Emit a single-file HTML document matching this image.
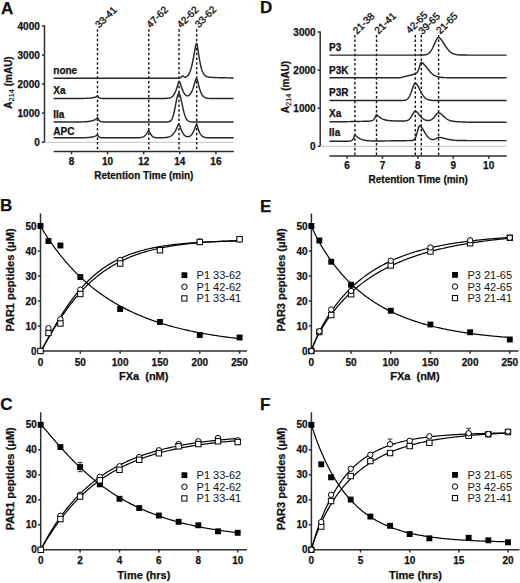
<!DOCTYPE html>
<html><head><meta charset="utf-8"><style>
html,body{margin:0;padding:0;background:#fff;}
svg{display:block;}
text{font-family:"Liberation Sans", sans-serif;fill:#111;}
text[font-weight="bold"]{stroke:#111;stroke-width:0.25px;}
</style></head><body>
<svg width="520" height="583" viewBox="0 0 520 583">
<rect width="520" height="583" fill="#fff"/>
<text x="0.90" y="13.50" font-size="17" font-weight="bold" text-anchor="start" >A</text>
<text x="259.90" y="13.30" font-size="17" font-weight="bold" text-anchor="start" >D</text>
<text x="0.00" y="211.40" font-size="17" font-weight="bold" text-anchor="start" >B</text>
<text x="260.00" y="211.60" font-size="17" font-weight="bold" text-anchor="start" >E</text>
<text x="0.30" y="410.20" font-size="17" font-weight="bold" text-anchor="start" >C</text>
<text x="260.10" y="409.60" font-size="17" font-weight="bold" text-anchor="start" >F</text>
<line x1="44.50" y1="25.50" x2="44.50" y2="142.60" stroke="#2e2e2e" stroke-width="1.5" />
<line x1="41.90" y1="142.20" x2="44.50" y2="142.20" stroke="#2e2e2e" stroke-width="1.5" />
<text x="39.80" y="145.80" font-size="10" font-weight="bold" text-anchor="end" >0</text>
<line x1="41.90" y1="113.15" x2="44.50" y2="113.15" stroke="#2e2e2e" stroke-width="1.5" />
<text x="39.80" y="116.75" font-size="10" font-weight="bold" text-anchor="end" >1000</text>
<line x1="41.90" y1="84.10" x2="44.50" y2="84.10" stroke="#2e2e2e" stroke-width="1.5" />
<text x="39.80" y="87.70" font-size="10" font-weight="bold" text-anchor="end" >2000</text>
<line x1="41.90" y1="55.05" x2="44.50" y2="55.05" stroke="#2e2e2e" stroke-width="1.5" />
<text x="39.80" y="58.65" font-size="10" font-weight="bold" text-anchor="end" >3000</text>
<line x1="41.90" y1="26.00" x2="44.50" y2="26.00" stroke="#2e2e2e" stroke-width="1.5" />
<text x="39.80" y="29.60" font-size="10" font-weight="bold" text-anchor="end" >4000</text>
<line x1="44.50" y1="142.30" x2="233.80" y2="142.30" stroke="#c4c4c4" stroke-width="1" />
<line x1="53.60" y1="151.60" x2="233.80" y2="151.60" stroke="#2e2e2e" stroke-width="1.5" />
<line x1="71.50" y1="151.60" x2="71.50" y2="154.30" stroke="#2e2e2e" stroke-width="1.5" />
<text x="71.50" y="165.30" font-size="10" font-weight="bold" text-anchor="middle" >8</text>
<line x1="107.60" y1="151.60" x2="107.60" y2="154.30" stroke="#2e2e2e" stroke-width="1.5" />
<text x="107.60" y="165.30" font-size="10" font-weight="bold" text-anchor="middle" >10</text>
<line x1="143.70" y1="151.60" x2="143.70" y2="154.30" stroke="#2e2e2e" stroke-width="1.5" />
<text x="143.70" y="165.30" font-size="10" font-weight="bold" text-anchor="middle" >12</text>
<line x1="179.80" y1="151.60" x2="179.80" y2="154.30" stroke="#2e2e2e" stroke-width="1.5" />
<text x="179.80" y="165.30" font-size="10" font-weight="bold" text-anchor="middle" >14</text>
<line x1="215.90" y1="151.60" x2="215.90" y2="154.30" stroke="#2e2e2e" stroke-width="1.5" />
<text x="215.90" y="165.30" font-size="10" font-weight="bold" text-anchor="middle" >16</text>
<text x="143.80" y="178.60" font-size="10" font-weight="bold" text-anchor="middle" >Retention Time (min)</text>
<text transform="translate(12.2,82.5) rotate(-90)" font-size="10" font-weight="bold" text-anchor="middle">A<tspan font-size="7.4" font-weight="normal" dy="2" style="stroke-width:0.15px">214</tspan><tspan dy="-2"> (mAU)</tspan></text>
<line x1="97.50" y1="29.30" x2="97.50" y2="151.60" stroke="#111" stroke-width="1.4" stroke-dasharray="2.5 2.2"/>
<line x1="148.80" y1="29.30" x2="148.80" y2="151.60" stroke="#111" stroke-width="1.4" stroke-dasharray="2.5 2.2"/>
<line x1="179.00" y1="29.30" x2="179.00" y2="151.60" stroke="#111" stroke-width="1.4" stroke-dasharray="2.5 2.2"/>
<line x1="196.70" y1="29.30" x2="196.70" y2="151.60" stroke="#111" stroke-width="1.4" stroke-dasharray="2.5 2.2"/>
<polyline points="53.6,78.20 54.1,78.20 54.6,78.20 55.1,78.20 55.6,78.20 56.1,78.20 56.6,78.20 57.1,78.20 57.6,78.20 58.1,78.20 58.6,78.20 59.1,78.20 59.6,78.20 60.1,78.20 60.6,78.20 61.1,78.20 61.6,78.20 62.1,78.20 62.6,78.20 63.1,78.20 63.6,78.20 64.1,78.20 64.6,78.20 65.1,78.20 65.6,78.20 66.1,78.20 66.6,78.20 67.1,78.20 67.6,78.20 68.1,78.20 68.6,78.20 69.1,78.20 69.6,78.20 70.1,78.20 70.6,78.20 71.1,78.20 71.6,78.20 72.1,78.20 72.6,78.20 73.1,78.20 73.6,78.20 74.1,78.20 74.6,78.20 75.1,78.20 75.6,78.20 76.1,78.20 76.6,78.20 77.1,78.20 77.6,78.20 78.1,78.20 78.6,78.20 79.1,78.20 79.6,78.20 80.1,78.20 80.6,78.20 81.1,78.20 81.6,78.20 82.1,78.20 82.6,78.20 83.1,78.20 83.6,78.20 84.1,78.20 84.6,78.20 85.1,78.20 85.6,78.20 86.1,78.20 86.6,78.20 87.1,78.20 87.6,78.20 88.1,78.20 88.6,78.20 89.1,78.20 89.6,78.20 90.1,78.20 90.6,78.20 91.1,78.20 91.6,78.20 92.1,78.20 92.6,78.20 93.1,78.20 93.6,78.20 94.1,78.20 94.6,78.20 95.1,78.20 95.6,78.20 96.1,78.20 96.6,78.20 97.1,78.20 97.6,78.20 98.1,78.20 98.6,78.20 99.1,78.20 99.6,78.20 100.1,78.20 100.6,78.20 101.1,78.20 101.6,78.20 102.1,78.20 102.6,78.20 103.1,78.20 103.6,78.20 104.1,78.20 104.6,78.20 105.1,78.20 105.6,78.20 106.1,78.20 106.6,78.20 107.1,78.20 107.6,78.20 108.1,78.20 108.6,78.20 109.1,78.20 109.6,78.20 110.1,78.20 110.6,78.20 111.1,78.20 111.6,78.20 112.1,78.20 112.6,78.20 113.1,78.20 113.6,78.20 114.1,78.20 114.6,78.20 115.1,78.20 115.6,78.20 116.1,78.20 116.6,78.20 117.1,78.20 117.6,78.20 118.1,78.20 118.6,78.20 119.1,78.20 119.6,78.20 120.1,78.20 120.6,78.20 121.1,78.20 121.6,78.20 122.1,78.20 122.6,78.20 123.1,78.20 123.6,78.20 124.1,78.20 124.6,78.20 125.1,78.20 125.6,78.20 126.1,78.20 126.6,78.20 127.1,78.20 127.6,78.20 128.1,78.20 128.6,78.20 129.1,78.20 129.6,78.20 130.1,78.20 130.6,78.20 131.1,78.20 131.6,78.20 132.1,78.20 132.6,78.20 133.1,78.20 133.6,78.20 134.1,78.20 134.6,78.20 135.1,78.20 135.6,78.20 136.1,78.20 136.6,78.20 137.1,78.20 137.6,78.20 138.1,78.20 138.6,78.20 139.1,78.20 139.6,78.20 140.1,78.20 140.6,78.20 141.1,78.20 141.6,78.20 142.1,78.20 142.6,78.20 143.1,78.20 143.6,78.20 144.1,78.20 144.6,78.20 145.1,78.20 145.6,78.20 146.1,78.20 146.6,78.20 147.1,78.20 147.6,78.20 148.1,78.20 148.6,78.20 149.1,78.20 149.6,78.20 150.1,78.20 150.6,78.20 151.1,78.20 151.6,78.20 152.1,78.20 152.6,78.20 153.1,78.20 153.6,78.20 154.1,78.20 154.6,78.20 155.1,78.20 155.6,78.20 156.1,78.20 156.6,78.20 157.1,78.20 157.6,78.20 158.1,78.20 158.6,78.20 159.1,78.20 159.6,78.20 160.1,78.20 160.6,78.20 161.1,78.20 161.6,78.20 162.1,78.20 162.6,78.20 163.1,78.20 163.6,78.20 164.1,78.20 164.6,78.20 165.1,78.20 165.6,78.20 166.1,78.20 166.6,78.20 167.1,78.20 167.6,78.20 168.1,78.20 168.6,78.20 169.1,78.20 169.6,78.20 170.1,78.20 170.6,78.20 171.1,78.20 171.6,78.20 172.1,78.20 172.6,78.20 173.1,78.20 173.6,78.20 174.1,78.20 174.6,78.20 175.1,78.20 175.6,78.20 176.1,78.20 176.6,78.20 177.1,78.19 177.6,78.19 178.1,78.19 178.6,78.17 179.1,78.15 179.6,78.08 180.1,77.95 180.6,77.69 181.1,77.30 181.6,76.81 182.1,76.34 182.6,76.04 183.1,76.03 183.6,76.32 184.1,76.75 184.6,77.09 185.1,77.24 185.6,77.20 186.1,77.00 186.6,76.71 187.1,76.32 187.6,75.83 188.1,75.24 188.6,74.52 189.1,73.66 189.6,72.64 190.1,71.44 190.6,70.04 191.1,68.42 191.6,66.58 192.1,64.51 192.6,62.22 193.1,59.72 193.6,57.05 194.1,54.26 194.6,51.43 195.1,48.69 195.6,46.17 196.1,44.15 196.6,43.38 197.1,45.18 197.6,47.86 198.1,50.92 198.6,54.11 199.1,57.24 199.6,60.19 200.1,62.89 200.6,65.29 201.1,67.37 201.6,69.14 202.1,70.60 202.6,71.77 203.1,72.73 203.6,73.67 204.1,74.44 204.6,75.06 205.1,75.56 205.6,75.95 206.1,76.26 206.6,76.51 207.1,76.70 207.6,76.85 208.1,76.97 208.6,77.07 209.1,77.14 209.6,77.21 210.1,77.26 210.6,77.30 211.1,77.34 211.6,77.37 212.1,77.40 212.6,77.43 213.1,77.45 213.6,77.47 214.1,77.49 214.6,77.52 215.1,77.53 215.6,77.55 216.1,77.57 216.6,77.59 217.1,77.61 217.6,77.62 218.1,77.64 218.6,77.65 219.1,77.67 219.6,77.68 220.1,77.70 220.6,77.71 221.1,77.72 221.6,77.74 222.1,77.75 222.6,77.76 223.1,77.77 223.6,77.79 224.1,77.80 224.6,77.81 225.1,77.82 225.6,77.83 226.1,77.84 226.6,77.85 227.1,77.86 227.6,77.87 228.1,77.88 228.6,77.89 229.1,77.90 229.6,77.90 230.1,77.91 230.6,77.92 231.1,77.93 231.6,77.93 232.1,77.94 232.6,77.95 233.1,77.96 233.6,77.96" fill="none" stroke="#262626" stroke-width="1.45" stroke-linejoin="round"/>
<polyline points="53.6,98.50 54.1,98.50 54.6,98.50 55.1,98.50 55.6,98.50 56.1,98.50 56.6,98.50 57.1,98.50 57.6,98.50 58.1,98.50 58.6,98.50 59.1,98.50 59.6,98.50 60.1,98.50 60.6,98.50 61.1,98.50 61.6,98.50 62.1,98.50 62.6,98.50 63.1,98.50 63.6,98.50 64.1,98.50 64.6,98.50 65.1,98.50 65.6,98.50 66.1,98.50 66.6,98.50 67.1,98.50 67.6,98.50 68.1,98.50 68.6,98.50 69.1,98.50 69.6,98.50 70.1,98.50 70.6,98.50 71.1,98.50 71.6,98.50 72.1,98.50 72.6,98.49 73.1,98.49 73.6,98.49 74.1,98.49 74.6,98.49 75.1,98.49 75.6,98.49 76.1,98.49 76.6,98.49 77.1,98.48 77.6,98.48 78.1,98.48 78.6,98.48 79.1,98.47 79.6,98.47 80.1,98.47 80.6,98.46 81.1,98.46 81.6,98.45 82.1,98.45 82.6,98.44 83.1,98.43 83.6,98.42 84.1,98.41 84.6,98.40 85.1,98.39 85.6,98.37 86.1,98.35 86.6,98.33 87.1,98.31 87.6,98.29 88.1,98.26 88.6,98.23 89.1,98.19 89.6,98.15 90.1,98.10 90.6,98.05 91.1,97.99 91.6,97.92 92.1,97.84 92.6,97.76 93.1,97.66 93.6,97.54 94.1,97.42 94.6,97.27 95.1,97.11 95.6,96.92 96.1,96.71 96.6,96.48 97.1,96.21 97.6,95.90 98.1,96.73 98.6,97.30 99.1,97.68 99.6,97.94 100.1,98.12 100.6,98.24 101.1,98.32 101.6,98.38 102.1,98.42 102.6,98.44 103.1,98.46 103.6,98.47 104.1,98.48 104.6,98.49 105.1,98.49 105.6,98.49 106.1,98.50 106.6,98.50 107.1,98.50 107.6,98.50 108.1,98.50 108.6,98.50 109.1,98.50 109.6,98.50 110.1,98.50 110.6,98.50 111.1,98.50 111.6,98.50 112.1,98.50 112.6,98.50 113.1,98.50 113.6,98.50 114.1,98.50 114.6,98.50 115.1,98.50 115.6,98.50 116.1,98.50 116.6,98.50 117.1,98.50 117.6,98.50 118.1,98.50 118.6,98.50 119.1,98.50 119.6,98.50 120.1,98.50 120.6,98.50 121.1,98.50 121.6,98.50 122.1,98.50 122.6,98.50 123.1,98.50 123.6,98.50 124.1,98.50 124.6,98.50 125.1,98.50 125.6,98.50 126.1,98.50 126.6,98.50 127.1,98.50 127.6,98.50 128.1,98.50 128.6,98.50 129.1,98.50 129.6,98.50 130.1,98.50 130.6,98.50 131.1,98.50 131.6,98.50 132.1,98.50 132.6,98.50 133.1,98.50 133.6,98.50 134.1,98.50 134.6,98.50 135.1,98.50 135.6,98.50 136.1,98.50 136.6,98.50 137.1,98.50 137.6,98.50 138.1,98.50 138.6,98.50 139.1,98.50 139.6,98.50 140.1,98.50 140.6,98.50 141.1,98.50 141.6,98.50 142.1,98.50 142.6,98.50 143.1,98.50 143.6,98.50 144.1,98.50 144.6,98.50 145.1,98.50 145.6,98.50 146.1,98.50 146.6,98.50 147.1,98.50 147.6,98.50 148.1,98.50 148.6,98.50 149.1,98.50 149.6,98.50 150.1,98.50 150.6,98.50 151.1,98.50 151.6,98.50 152.1,98.50 152.6,98.50 153.1,98.50 153.6,98.50 154.1,98.50 154.6,98.50 155.1,98.50 155.6,98.50 156.1,98.50 156.6,98.50 157.1,98.50 157.6,98.50 158.1,98.50 158.6,98.50 159.1,98.50 159.6,98.50 160.1,98.50 160.6,98.50 161.1,98.50 161.6,98.49 162.1,98.49 162.6,98.49 163.1,98.48 163.6,98.48 164.1,98.47 164.6,98.46 165.1,98.45 165.6,98.43 166.1,98.41 166.6,98.38 167.1,98.34 167.6,98.30 168.1,98.23 168.6,98.15 169.1,98.05 169.6,97.93 170.1,97.77 170.6,97.57 171.1,97.32 171.6,97.02 172.1,96.64 172.6,96.20 173.1,95.66 173.6,95.01 174.1,94.25 174.6,93.37 175.1,92.35 175.6,91.20 176.1,89.90 176.6,88.48 177.1,86.96 177.6,85.38 178.1,83.81 178.6,82.36 179.1,81.28 179.6,81.80 180.1,83.05 180.6,84.50 181.1,85.99 181.6,87.46 182.1,88.85 182.6,90.14 183.1,91.30 183.6,92.32 184.1,93.21 184.6,93.96 185.1,94.57 185.6,95.06 186.1,95.43 186.6,95.69 187.1,95.82 187.6,95.85 188.1,95.77 188.6,95.58 189.1,95.28 189.6,94.86 190.1,94.31 190.6,93.64 191.1,92.83 191.6,91.88 192.1,90.78 192.6,89.54 193.1,88.16 193.6,86.64 194.1,85.02 194.6,83.33 195.1,81.63 195.6,80.00 196.1,78.59 196.6,78.01 197.1,79.39 197.6,81.22 198.1,83.20 198.6,85.18 199.1,87.05 199.6,88.79 200.1,90.35 200.6,91.73 201.1,92.92 201.6,93.95 202.1,94.81 202.6,95.54 203.1,96.14 203.6,96.63 204.1,97.03 204.6,97.35 205.1,97.61 205.6,97.81 206.1,97.97 206.6,98.10 207.1,98.19 207.6,98.27 208.1,98.33 208.6,98.37 209.1,98.40 209.6,98.43 210.1,98.45 210.6,98.46 211.1,98.47 211.6,98.48 212.1,98.48 212.6,98.49 213.1,98.49 213.6,98.49 214.1,98.50 214.6,98.50 215.1,98.50 215.6,98.50 216.1,98.50 216.6,98.50 217.1,98.50 217.6,98.50 218.1,98.50 218.6,98.50 219.1,98.50 219.6,98.50 220.1,98.50 220.6,98.50 221.1,98.50 221.6,98.50 222.1,98.50 222.6,98.50 223.1,98.50 223.6,98.50 224.1,98.50 224.6,98.50 225.1,98.50 225.6,98.50 226.1,98.50 226.6,98.50 227.1,98.50 227.6,98.50 228.1,98.50 228.6,98.50 229.1,98.50 229.6,98.50 230.1,98.50 230.6,98.50 231.1,98.50 231.6,98.50 232.1,98.50 232.6,98.50 233.1,98.50 233.6,98.50" fill="none" stroke="#262626" stroke-width="1.45" stroke-linejoin="round"/>
<polyline points="53.6,122.00 54.1,122.00 54.6,122.00 55.1,122.00 55.6,122.00 56.1,122.00 56.6,122.00 57.1,122.00 57.6,122.00 58.1,122.00 58.6,122.00 59.1,122.00 59.6,122.00 60.1,122.00 60.6,122.00 61.1,122.00 61.6,122.00 62.1,122.00 62.6,122.00 63.1,122.00 63.6,122.00 64.1,122.00 64.6,122.00 65.1,122.00 65.6,122.00 66.1,122.00 66.6,122.00 67.1,122.00 67.6,122.00 68.1,122.00 68.6,122.00 69.1,121.99 69.6,121.99 70.1,121.99 70.6,121.99 71.1,121.99 71.6,121.99 72.1,121.99 72.6,121.99 73.1,121.99 73.6,121.99 74.1,121.98 74.6,121.98 75.1,121.98 75.6,121.98 76.1,121.97 76.6,121.97 77.1,121.97 77.6,121.96 78.1,121.96 78.6,121.95 79.1,121.95 79.6,121.94 80.1,121.93 80.6,121.92 81.1,121.91 81.6,121.90 82.1,121.89 82.6,121.87 83.1,121.86 83.6,121.84 84.1,121.82 84.6,121.80 85.1,121.77 85.6,121.74 86.1,121.71 86.6,121.67 87.1,121.63 87.6,121.58 88.1,121.53 88.6,121.47 89.1,121.41 89.6,121.33 90.1,121.25 90.6,121.15 91.1,121.04 91.6,120.92 92.1,120.79 92.6,120.63 93.1,120.46 93.6,120.26 94.1,120.04 94.6,119.80 95.1,119.52 95.6,119.20 96.1,118.85 96.6,118.45 97.1,118.01 97.6,117.50 98.1,118.85 98.6,119.80 99.1,120.46 99.6,120.92 100.1,121.25 100.6,121.47 101.1,121.63 101.6,121.74 102.1,121.82 102.6,121.87 103.1,121.91 103.6,121.94 104.1,121.96 104.6,121.97 105.1,121.98 105.6,121.99 106.1,121.99 106.6,121.99 107.1,121.99 107.6,122.00 108.1,122.00 108.6,122.00 109.1,122.00 109.6,122.00 110.1,122.00 110.6,122.00 111.1,122.00 111.6,122.00 112.1,122.00 112.6,122.00 113.1,122.00 113.6,122.00 114.1,122.00 114.6,122.00 115.1,122.00 115.6,122.00 116.1,122.00 116.6,122.00 117.1,122.00 117.6,122.00 118.1,122.00 118.6,122.00 119.1,122.00 119.6,122.00 120.1,122.00 120.6,122.00 121.1,122.00 121.6,122.00 122.1,122.00 122.6,122.00 123.1,122.00 123.6,122.00 124.1,122.00 124.6,122.00 125.1,122.00 125.6,122.00 126.1,122.00 126.6,122.00 127.1,122.00 127.6,122.00 128.1,122.00 128.6,122.00 129.1,122.00 129.6,122.00 130.1,122.00 130.6,122.00 131.1,122.00 131.6,122.00 132.1,122.00 132.6,122.00 133.1,122.00 133.6,122.00 134.1,122.00 134.6,122.00 135.1,122.00 135.6,122.00 136.1,122.00 136.6,122.00 137.1,122.00 137.6,122.00 138.1,122.00 138.6,122.00 139.1,122.00 139.6,122.00 140.1,122.00 140.6,122.00 141.1,122.00 141.6,122.00 142.1,122.00 142.6,122.00 143.1,122.00 143.6,122.00 144.1,122.00 144.6,122.00 145.1,122.00 145.6,122.00 146.1,122.00 146.6,122.00 147.1,122.00 147.6,122.00 148.1,122.00 148.6,122.00 149.1,122.00 149.6,122.00 150.1,122.00 150.6,122.00 151.1,122.00 151.6,122.00 152.1,122.00 152.6,122.00 153.1,122.00 153.6,122.00 154.1,122.00 154.6,122.00 155.1,122.00 155.6,122.00 156.1,122.00 156.6,122.00 157.1,122.00 157.6,122.00 158.1,122.00 158.6,122.00 159.1,122.00 159.6,122.00 160.1,122.00 160.6,122.00 161.1,122.00 161.6,122.00 162.1,122.00 162.6,122.00 163.1,122.00 163.6,122.00 164.1,122.00 164.6,122.00 165.1,122.00 165.6,121.99 166.1,121.99 166.6,121.98 167.1,121.96 167.6,121.93 168.1,121.88 168.6,121.81 169.1,121.69 169.6,121.52 170.1,121.26 170.6,120.89 171.1,120.38 171.6,119.68 172.1,118.76 172.6,117.59 173.1,116.13 173.6,114.36 174.1,112.31 174.6,109.98 175.1,107.44 175.6,104.79 176.1,102.12 176.6,99.57 177.1,97.29 177.6,95.41 178.1,94.06 178.6,93.32 179.1,93.29 179.6,94.09 180.1,95.48 180.6,97.32 181.1,99.47 181.6,101.81 182.1,104.21 182.6,106.60 183.1,108.88 183.6,111.00 184.1,112.93 184.6,114.63 185.1,116.10 185.6,117.35 186.1,118.38 186.6,119.23 187.1,119.91 187.6,120.44 188.1,120.86 188.6,121.17 189.1,121.41 189.6,121.58 190.1,121.71 190.6,121.80 191.1,121.86 191.6,121.91 192.1,121.94 192.6,121.96 193.1,121.97 193.6,121.98 194.1,121.99 194.6,121.99 195.1,122.00 195.6,122.00 196.1,122.00 196.6,122.00 197.1,122.00 197.6,122.00 198.1,122.00 198.6,122.00 199.1,122.00 199.6,122.00 200.1,122.00 200.6,122.00 201.1,122.00 201.6,122.00 202.1,122.00 202.6,122.00 203.1,122.00 203.6,122.00 204.1,122.00 204.6,122.00 205.1,122.00 205.6,122.00 206.1,122.00 206.6,122.00 207.1,122.00 207.6,122.00 208.1,122.00 208.6,122.00 209.1,122.00 209.6,122.00 210.1,122.00 210.6,122.00 211.1,122.00 211.6,122.00 212.1,122.00 212.6,122.00 213.1,122.00 213.6,122.00 214.1,122.00 214.6,122.00 215.1,122.00 215.6,122.00 216.1,122.00 216.6,122.00 217.1,122.00 217.6,122.00 218.1,122.00 218.6,122.00 219.1,122.00 219.6,122.00 220.1,122.00 220.6,122.00 221.1,122.00 221.6,122.00 222.1,122.00 222.6,122.00 223.1,122.00 223.6,122.00 224.1,122.00 224.6,122.00 225.1,122.00 225.6,122.00 226.1,122.00 226.6,122.00 227.1,122.00 227.6,122.00 228.1,122.00 228.6,122.00 229.1,122.00 229.6,122.00 230.1,122.00 230.6,122.00 231.1,122.00 231.6,122.00 232.1,122.00 232.6,122.00 233.1,122.00 233.6,122.00" fill="none" stroke="#262626" stroke-width="1.45" stroke-linejoin="round"/>
<polyline points="53.6,137.80 54.1,137.80 54.6,137.80 55.1,137.80 55.6,137.80 56.1,137.80 56.6,137.80 57.1,137.80 57.6,137.80 58.1,137.80 58.6,137.80 59.1,137.80 59.6,137.80 60.1,137.80 60.6,137.80 61.1,137.80 61.6,137.80 62.1,137.80 62.6,137.80 63.1,137.80 63.6,137.80 64.1,137.80 64.6,137.80 65.1,137.80 65.6,137.80 66.1,137.80 66.6,137.80 67.1,137.80 67.6,137.80 68.1,137.80 68.6,137.80 69.1,137.80 69.6,137.80 70.1,137.80 70.6,137.80 71.1,137.80 71.6,137.80 72.1,137.79 72.6,137.79 73.1,137.79 73.6,137.79 74.1,137.79 74.6,137.79 75.1,137.79 75.6,137.79 76.1,137.79 76.6,137.78 77.1,137.78 77.6,137.78 78.1,137.78 78.6,137.77 79.1,137.77 79.6,137.77 80.1,137.76 80.6,137.76 81.1,137.75 81.6,137.75 82.1,137.74 82.6,137.73 83.1,137.72 83.6,137.71 84.1,137.70 84.6,137.68 85.1,137.67 85.6,137.65 86.1,137.63 86.6,137.61 87.1,137.58 87.6,137.55 88.1,137.52 88.6,137.48 89.1,137.44 89.6,137.39 90.1,137.34 90.6,137.28 91.1,137.21 91.6,137.13 92.1,137.04 92.6,136.94 93.1,136.83 93.6,136.70 94.1,136.55 94.6,136.38 95.1,136.19 95.6,135.98 96.1,135.74 96.6,135.46 97.1,135.15 97.6,134.80 98.1,135.82 98.6,136.50 99.1,136.94 99.6,137.23 100.1,137.43 100.6,137.55 101.1,137.64 101.6,137.69 102.1,137.73 102.6,137.75 103.1,137.77 103.6,137.78 104.1,137.79 104.6,137.79 105.1,137.79 105.6,137.80 106.1,137.80 106.6,137.80 107.1,137.80 107.6,137.80 108.1,137.80 108.6,137.80 109.1,137.80 109.6,137.80 110.1,137.80 110.6,137.80 111.1,137.80 111.6,137.80 112.1,137.80 112.6,137.80 113.1,137.80 113.6,137.80 114.1,137.80 114.6,137.80 115.1,137.80 115.6,137.80 116.1,137.80 116.6,137.80 117.1,137.80 117.6,137.80 118.1,137.80 118.6,137.80 119.1,137.80 119.6,137.80 120.1,137.80 120.6,137.80 121.1,137.80 121.6,137.80 122.1,137.80 122.6,137.80 123.1,137.80 123.6,137.80 124.1,137.80 124.6,137.80 125.1,137.80 125.6,137.80 126.1,137.80 126.6,137.80 127.1,137.80 127.6,137.80 128.1,137.80 128.6,137.80 129.1,137.80 129.6,137.80 130.1,137.80 130.6,137.80 131.1,137.80 131.6,137.80 132.1,137.80 132.6,137.80 133.1,137.80 133.6,137.80 134.1,137.79 134.6,137.79 135.1,137.79 135.6,137.79 136.1,137.78 136.6,137.77 137.1,137.76 137.6,137.75 138.1,137.74 138.6,137.71 139.1,137.69 139.6,137.65 140.1,137.60 140.6,137.54 141.1,137.46 141.6,137.36 142.1,137.23 142.6,137.07 143.1,136.87 143.6,136.62 144.1,136.31 144.6,135.94 145.1,135.49 145.6,134.97 146.1,134.35 146.6,133.65 147.1,132.87 147.6,132.03 148.1,131.19 148.6,130.48 149.1,131.02 149.6,132.05 150.1,133.07 150.6,133.99 151.1,134.79 151.6,135.46 152.1,136.01 152.6,136.44 153.1,136.78 153.6,137.04 154.1,137.24 154.6,137.39 155.1,137.50 155.6,137.59 156.1,137.64 156.6,137.69 157.1,137.72 157.6,137.74 158.1,137.75 158.6,137.76 159.1,137.76 159.6,137.77 160.1,137.76 160.6,137.76 161.1,137.75 161.6,137.74 162.1,137.73 162.6,137.72 163.1,137.70 163.6,137.68 164.1,137.65 164.6,137.62 165.1,137.58 165.6,137.53 166.1,137.48 166.6,137.41 167.1,137.33 167.6,137.23 168.1,137.12 168.6,136.98 169.1,136.82 169.6,136.63 170.1,136.41 170.6,136.15 171.1,135.85 171.6,135.51 172.1,135.11 172.6,134.65 173.1,134.12 173.6,133.53 174.1,132.86 174.6,132.12 175.1,131.29 175.6,130.38 176.1,129.39 176.6,128.34 177.1,127.23 177.6,126.10 178.1,124.99 178.6,124.00 179.1,123.92 179.6,125.18 180.1,126.62 180.6,128.05 181.1,129.40 181.6,130.64 182.1,131.75 182.6,132.72 183.1,133.56 183.6,134.28 184.1,134.88 184.6,135.37 185.1,135.77 185.6,136.09 186.1,136.33 186.6,136.50 187.1,136.61 187.6,136.66 188.1,136.64 188.6,136.57 189.1,136.44 189.6,136.24 190.1,135.96 190.6,135.61 191.1,135.18 191.6,134.64 192.1,134.00 192.6,133.24 193.1,132.35 193.6,131.33 194.1,130.19 194.6,128.92 195.1,127.57 195.6,126.17 196.1,124.86 196.6,124.25 197.1,125.57 197.6,127.12 198.1,128.67 198.6,130.12 199.1,131.41 199.6,132.55 200.1,133.53 200.6,134.35 201.1,135.04 201.6,135.61 202.1,136.07 202.6,136.44 203.1,136.74 203.6,136.98 204.1,137.17 204.6,137.32 205.1,137.43 205.6,137.52 206.1,137.59 206.6,137.64 207.1,137.68 207.6,137.71 208.1,137.73 208.6,137.75 209.1,137.76 209.6,137.77 210.1,137.78 210.6,137.79 211.1,137.79 211.6,137.79 212.1,137.79 212.6,137.80 213.1,137.80 213.6,137.80 214.1,137.80 214.6,137.80 215.1,137.80 215.6,137.80 216.1,137.80 216.6,137.80 217.1,137.80 217.6,137.80 218.1,137.80 218.6,137.80 219.1,137.80 219.6,137.80 220.1,137.80 220.6,137.80 221.1,137.80 221.6,137.80 222.1,137.80 222.6,137.80 223.1,137.80 223.6,137.80 224.1,137.80 224.6,137.80 225.1,137.80 225.6,137.80 226.1,137.80 226.6,137.80 227.1,137.80 227.6,137.80 228.1,137.80 228.6,137.80 229.1,137.80 229.6,137.80 230.1,137.80 230.6,137.80 231.1,137.80 231.6,137.80 232.1,137.80 232.6,137.80 233.1,137.80 233.6,137.80" fill="none" stroke="#262626" stroke-width="1.45" stroke-linejoin="round"/>
<text x="53.30" y="74.00" font-size="10" font-weight="bold" text-anchor="start" >none</text>
<text x="53.30" y="94.40" font-size="10" font-weight="bold" text-anchor="start" >Xa</text>
<text x="53.30" y="117.90" font-size="10" font-weight="bold" text-anchor="start" >IIa</text>
<text x="53.30" y="134.80" font-size="10" font-weight="bold" text-anchor="start" >APC</text>
<text transform="translate(99.30,28.60) rotate(-45)" font-size="10" font-weight="normal" stroke="#111" stroke-width="0.35">33-41</text>
<text transform="translate(150.50,28.40) rotate(-45)" font-size="10" font-weight="normal" stroke="#111" stroke-width="0.35">47-62</text>
<text transform="translate(181.00,28.40) rotate(-45)" font-size="10" font-weight="normal" stroke="#111" stroke-width="0.35">42-62</text>
<text transform="translate(198.90,28.20) rotate(-45)" font-size="10" font-weight="normal" stroke="#111" stroke-width="0.35">33-62</text>
<line x1="320.20" y1="31.50" x2="320.20" y2="146.60" stroke="#2e2e2e" stroke-width="1.5" />
<line x1="317.60" y1="146.30" x2="320.20" y2="146.30" stroke="#2e2e2e" stroke-width="1.5" />
<text x="315.60" y="149.90" font-size="10" font-weight="bold" text-anchor="end" >0</text>
<line x1="317.60" y1="108.20" x2="320.20" y2="108.20" stroke="#2e2e2e" stroke-width="1.5" />
<text x="315.60" y="111.80" font-size="10" font-weight="bold" text-anchor="end" >1000</text>
<line x1="317.60" y1="70.10" x2="320.20" y2="70.10" stroke="#2e2e2e" stroke-width="1.5" />
<text x="315.60" y="73.70" font-size="10" font-weight="bold" text-anchor="end" >2000</text>
<line x1="317.60" y1="32.00" x2="320.20" y2="32.00" stroke="#2e2e2e" stroke-width="1.5" />
<text x="315.60" y="35.60" font-size="10" font-weight="bold" text-anchor="end" >3000</text>
<line x1="320.20" y1="146.30" x2="506.80" y2="146.30" stroke="#c4c4c4" stroke-width="1" />
<line x1="329.30" y1="156.10" x2="506.80" y2="156.10" stroke="#2e2e2e" stroke-width="1.5" />
<line x1="347.10" y1="156.10" x2="347.10" y2="158.80" stroke="#2e2e2e" stroke-width="1.5" />
<text x="347.10" y="169.20" font-size="10" font-weight="bold" text-anchor="middle" >6</text>
<line x1="382.49" y1="156.10" x2="382.49" y2="158.80" stroke="#2e2e2e" stroke-width="1.5" />
<text x="382.49" y="169.20" font-size="10" font-weight="bold" text-anchor="middle" >7</text>
<line x1="417.88" y1="156.10" x2="417.88" y2="158.80" stroke="#2e2e2e" stroke-width="1.5" />
<text x="417.88" y="169.20" font-size="10" font-weight="bold" text-anchor="middle" >8</text>
<line x1="453.27" y1="156.10" x2="453.27" y2="158.80" stroke="#2e2e2e" stroke-width="1.5" />
<text x="453.27" y="169.20" font-size="10" font-weight="bold" text-anchor="middle" >9</text>
<line x1="488.66" y1="156.10" x2="488.66" y2="158.80" stroke="#2e2e2e" stroke-width="1.5" />
<text x="488.66" y="169.20" font-size="10" font-weight="bold" text-anchor="middle" >10</text>
<text x="418.20" y="182.60" font-size="10" font-weight="bold" text-anchor="middle" >Retention Time (min)</text>
<text transform="translate(288.6,87) rotate(-90)" font-size="10" font-weight="bold" text-anchor="middle">A<tspan font-size="7.4" font-weight="normal" dy="2" style="stroke-width:0.15px">214</tspan><tspan dy="-2"> (mAU)</tspan></text>
<line x1="354.90" y1="34.90" x2="354.90" y2="156.10" stroke="#111" stroke-width="1.4" stroke-dasharray="2.5 2.2"/>
<line x1="376.50" y1="34.90" x2="376.50" y2="156.10" stroke="#111" stroke-width="1.4" stroke-dasharray="2.5 2.2"/>
<line x1="415.30" y1="34.90" x2="415.30" y2="156.10" stroke="#111" stroke-width="1.4" stroke-dasharray="2.5 2.2"/>
<line x1="421.30" y1="34.90" x2="421.30" y2="156.10" stroke="#111" stroke-width="1.4" stroke-dasharray="2.5 2.2"/>
<line x1="438.60" y1="34.90" x2="438.60" y2="156.10" stroke="#111" stroke-width="1.4" stroke-dasharray="2.5 2.2"/>
<polyline points="329.5,55.10 330.0,55.10 330.5,55.10 331.0,55.10 331.5,55.10 332.0,55.10 332.5,55.10 333.0,55.10 333.5,55.10 334.0,55.10 334.5,55.10 335.0,55.10 335.5,55.10 336.0,55.10 336.5,55.10 337.0,55.10 337.5,55.10 338.0,55.10 338.5,55.10 339.0,55.10 339.5,55.10 340.0,55.10 340.5,55.10 341.0,55.10 341.5,55.10 342.0,55.10 342.5,55.10 343.0,55.10 343.5,55.10 344.0,55.10 344.5,55.10 345.0,55.10 345.5,55.10 346.0,55.10 346.5,55.10 347.0,55.10 347.5,55.10 348.0,55.10 348.5,55.10 349.0,55.10 349.5,55.10 350.0,55.10 350.5,55.10 351.0,55.10 351.5,55.10 352.0,55.10 352.5,55.10 353.0,55.10 353.5,55.10 354.0,55.10 354.5,55.10 355.0,55.10 355.5,55.10 356.0,55.10 356.5,55.10 357.0,55.10 357.5,55.10 358.0,55.10 358.5,55.10 359.0,55.10 359.5,55.10 360.0,55.10 360.5,55.10 361.0,55.10 361.5,55.10 362.0,55.10 362.5,55.10 363.0,55.10 363.5,55.10 364.0,55.10 364.5,55.10 365.0,55.10 365.5,55.10 366.0,55.10 366.5,55.10 367.0,55.10 367.5,55.10 368.0,55.10 368.5,55.10 369.0,55.10 369.5,55.10 370.0,55.10 370.5,55.10 371.0,55.10 371.5,55.10 372.0,55.10 372.5,55.10 373.0,55.10 373.5,55.10 374.0,55.10 374.5,55.10 375.0,55.10 375.5,55.10 376.0,55.10 376.5,55.10 377.0,55.10 377.5,55.10 378.0,55.10 378.5,55.10 379.0,55.10 379.5,55.10 380.0,55.10 380.5,55.10 381.0,55.10 381.5,55.10 382.0,55.10 382.5,55.10 383.0,55.10 383.5,55.10 384.0,55.10 384.5,55.10 385.0,55.10 385.5,55.10 386.0,55.10 386.5,55.10 387.0,55.10 387.5,55.10 388.0,55.10 388.5,55.10 389.0,55.10 389.5,55.10 390.0,55.10 390.5,55.10 391.0,55.10 391.5,55.10 392.0,55.10 392.5,55.10 393.0,55.10 393.5,55.10 394.0,55.10 394.5,55.10 395.0,55.10 395.5,55.10 396.0,55.10 396.5,55.10 397.0,55.10 397.5,55.10 398.0,55.10 398.5,55.10 399.0,55.10 399.5,55.10 400.0,55.10 400.5,55.10 401.0,55.10 401.5,55.10 402.0,55.10 402.5,55.10 403.0,55.10 403.5,55.10 404.0,55.10 404.5,55.10 405.0,55.10 405.5,55.10 406.0,55.10 406.5,55.10 407.0,55.10 407.5,55.10 408.0,55.10 408.5,55.10 409.0,55.10 409.5,55.10 410.0,55.10 410.5,55.10 411.0,55.10 411.5,55.10 412.0,55.10 412.5,55.10 413.0,55.10 413.5,55.10 414.0,55.10 414.5,55.10 415.0,55.10 415.5,55.10 416.0,55.10 416.5,55.10 417.0,55.10 417.5,55.10 418.0,55.10 418.5,55.10 419.0,55.09 419.5,55.09 420.0,55.09 420.5,55.08 421.0,55.08 421.5,55.07 422.0,55.05 422.5,55.04 423.0,55.01 423.5,54.98 424.0,54.94 424.5,54.88 425.0,54.81 425.5,54.73 426.0,54.61 426.5,54.47 427.0,54.29 427.5,54.07 428.0,53.81 428.5,53.49 429.0,53.11 429.5,52.65 430.0,52.13 430.5,51.52 431.0,50.83 431.5,50.05 432.0,49.18 432.5,48.24 433.0,47.22 433.5,46.13 434.0,45.00 434.5,43.84 435.0,42.69 435.5,41.56 436.0,40.50 436.5,39.53 437.0,38.70 437.5,38.05 438.0,37.63 438.5,37.51 439.0,37.64 439.5,37.90 440.0,38.28 440.5,38.76 441.0,39.32 441.5,39.95 442.0,40.63 442.5,41.36 443.0,42.12 443.5,42.91 444.0,43.70 444.5,44.50 445.0,45.28 445.5,46.06 446.0,46.81 446.5,47.53 447.0,48.23 447.5,48.88 448.0,49.50 448.5,50.09 449.0,50.63 449.5,51.13 450.0,51.59 450.5,52.01 451.0,52.39 451.5,52.73 452.0,53.04 452.5,53.32 453.0,53.56 453.5,53.78 454.0,53.97 454.5,54.14 455.0,54.28 455.5,54.41 456.0,54.52 456.5,54.61 457.0,54.69 457.5,54.76 458.0,54.82 458.5,54.87 459.0,54.91 459.5,54.94 460.0,54.97 460.5,55.00 461.0,55.02 461.5,55.03 462.0,55.05 462.5,55.06 463.0,55.07 463.5,55.07 464.0,55.08 464.5,55.08 465.0,55.09 465.5,55.09 466.0,55.09 466.5,55.09 467.0,55.10 467.5,55.10 468.0,55.10 468.5,55.10 469.0,55.10 469.5,55.10 470.0,55.10 470.5,55.10 471.0,55.10 471.5,55.10 472.0,55.10 472.5,55.10 473.0,55.10 473.5,55.10 474.0,55.10 474.5,55.10 475.0,55.10 475.5,55.10 476.0,55.10 476.5,55.10 477.0,55.10 477.5,55.10 478.0,55.10 478.5,55.10 479.0,55.10 479.5,55.10 480.0,55.10 480.5,55.10 481.0,55.10 481.5,55.10 482.0,55.10 482.5,55.10 483.0,55.10 483.5,55.10 484.0,55.10 484.5,55.10 485.0,55.10 485.5,55.10 486.0,55.10 486.5,55.10 487.0,55.10 487.5,55.10 488.0,55.10 488.5,55.10 489.0,55.10 489.5,55.10 490.0,55.10 490.5,55.10 491.0,55.10 491.5,55.10 492.0,55.10 492.5,55.10 493.0,55.10 493.5,55.10 494.0,55.10 494.5,55.10 495.0,55.10 495.5,55.10 496.0,55.10 496.5,55.10 497.0,55.10 497.5,55.10 498.0,55.10 498.5,55.10 499.0,55.10 499.5,55.10 500.0,55.10 500.5,55.10 501.0,55.10 501.5,55.10 502.0,55.10 502.5,55.10 503.0,55.10 503.5,55.10 504.0,55.10 504.5,55.10 505.0,55.10 505.5,55.10 506.0,55.10 506.5,55.10" fill="none" stroke="#262626" stroke-width="1.45" stroke-linejoin="round"/>
<polyline points="329.5,77.70 330.0,77.70 330.5,77.70 331.0,77.70 331.5,77.70 332.0,77.70 332.5,77.70 333.0,77.70 333.5,77.70 334.0,77.70 334.5,77.70 335.0,77.70 335.5,77.70 336.0,77.70 336.5,77.70 337.0,77.70 337.5,77.70 338.0,77.70 338.5,77.70 339.0,77.70 339.5,77.70 340.0,77.70 340.5,77.70 341.0,77.70 341.5,77.70 342.0,77.70 342.5,77.70 343.0,77.70 343.5,77.70 344.0,77.70 344.5,77.70 345.0,77.70 345.5,77.70 346.0,77.70 346.5,77.70 347.0,77.70 347.5,77.70 348.0,77.70 348.5,77.70 349.0,77.70 349.5,77.70 350.0,77.70 350.5,77.70 351.0,77.70 351.5,77.70 352.0,77.70 352.5,77.70 353.0,77.70 353.5,77.70 354.0,77.70 354.5,77.70 355.0,77.70 355.5,77.70 356.0,77.70 356.5,77.70 357.0,77.70 357.5,77.70 358.0,77.70 358.5,77.70 359.0,77.70 359.5,77.70 360.0,77.70 360.5,77.70 361.0,77.70 361.5,77.70 362.0,77.70 362.5,77.70 363.0,77.70 363.5,77.70 364.0,77.70 364.5,77.70 365.0,77.70 365.5,77.70 366.0,77.70 366.5,77.70 367.0,77.70 367.5,77.70 368.0,77.70 368.5,77.70 369.0,77.70 369.5,77.70 370.0,77.70 370.5,77.70 371.0,77.70 371.5,77.70 372.0,77.70 372.5,77.70 373.0,77.70 373.5,77.70 374.0,77.70 374.5,77.70 375.0,77.70 375.5,77.70 376.0,77.70 376.5,77.70 377.0,77.70 377.5,77.70 378.0,77.70 378.5,77.70 379.0,77.70 379.5,77.70 380.0,77.70 380.5,77.70 381.0,77.70 381.5,77.70 382.0,77.70 382.5,77.70 383.0,77.70 383.5,77.70 384.0,77.70 384.5,77.70 385.0,77.70 385.5,77.70 386.0,77.70 386.5,77.70 387.0,77.70 387.5,77.70 388.0,77.70 388.5,77.70 389.0,77.70 389.5,77.70 390.0,77.70 390.5,77.70 391.0,77.70 391.5,77.70 392.0,77.70 392.5,77.70 393.0,77.70 393.5,77.70 394.0,77.70 394.5,77.70 395.0,77.70 395.5,77.70 396.0,77.70 396.5,77.70 397.0,77.70 397.5,77.70 398.0,77.70 398.5,77.70 399.0,77.70 399.5,77.70 400.0,77.70 400.5,77.58 401.0,77.46 401.5,77.34 402.0,77.22 402.5,77.10 403.0,76.98 403.5,76.86 404.0,76.74 404.5,76.62 405.0,76.50 405.5,76.38 406.0,76.26 406.5,76.14 407.0,76.02 407.5,75.90 408.0,75.78 408.5,75.66 409.0,75.54 409.5,75.42 410.0,75.30 410.5,75.18 411.0,75.06 411.5,74.94 412.0,74.82 412.5,74.69 413.0,74.56 413.5,74.42 414.0,74.25 414.5,74.06 415.0,73.93 415.5,73.79 416.0,73.58 416.5,73.25 417.0,72.75 417.5,72.03 418.0,71.05 418.5,69.79 419.0,68.28 419.5,66.62 420.0,64.97 420.5,63.53 421.0,62.56 421.5,62.37 422.0,62.64 422.5,62.99 423.0,63.40 423.5,63.87 424.0,64.38 424.5,64.93 425.0,65.51 425.5,66.12 426.0,66.74 426.5,67.37 427.0,68.01 427.5,68.65 428.0,69.28 428.5,69.90 429.0,70.50 429.5,71.09 430.0,71.65 430.5,72.19 431.0,72.70 431.5,73.19 432.0,73.64 432.5,74.06 433.0,74.45 433.5,74.81 434.0,75.14 434.5,75.44 435.0,75.72 435.5,75.96 436.0,76.19 436.5,76.38 437.0,76.56 437.5,76.72 438.0,76.86 438.5,76.98 439.0,77.08 439.5,77.18 440.0,77.26 440.5,77.33 441.0,77.39 441.5,77.44 442.0,77.48 442.5,77.52 443.0,77.55 443.5,77.58 444.0,77.60 444.5,77.62 445.0,77.63 445.5,77.64 446.0,77.65 446.5,77.66 447.0,77.67 447.5,77.68 448.0,77.68 448.5,77.68 449.0,77.69 449.5,77.69 450.0,77.69 450.5,77.69 451.0,77.70 451.5,77.70 452.0,77.70 452.5,77.70 453.0,77.70 453.5,77.70 454.0,77.70 454.5,77.70 455.0,77.70 455.5,77.70 456.0,77.70 456.5,77.70 457.0,77.70 457.5,77.70 458.0,77.70 458.5,77.70 459.0,77.70 459.5,77.70 460.0,77.70 460.5,77.70 461.0,77.70 461.5,77.70 462.0,77.70 462.5,77.70 463.0,77.70 463.5,77.70 464.0,77.70 464.5,77.70 465.0,77.70 465.5,77.70 466.0,77.70 466.5,77.70 467.0,77.70 467.5,77.70 468.0,77.70 468.5,77.70 469.0,77.70 469.5,77.70 470.0,77.70 470.5,77.70 471.0,77.70 471.5,77.70 472.0,77.70 472.5,77.70 473.0,77.70 473.5,77.70 474.0,77.70 474.5,77.70 475.0,77.70 475.5,77.70 476.0,77.70 476.5,77.70 477.0,77.70 477.5,77.70 478.0,77.70 478.5,77.70 479.0,77.70 479.5,77.70 480.0,77.70 480.5,77.70 481.0,77.70 481.5,77.70 482.0,77.70 482.5,77.70 483.0,77.70 483.5,77.70 484.0,77.70 484.5,77.70 485.0,77.70 485.5,77.70 486.0,77.70 486.5,77.70 487.0,77.70 487.5,77.70 488.0,77.70 488.5,77.70 489.0,77.70 489.5,77.70 490.0,77.70 490.5,77.70 491.0,77.70 491.5,77.70 492.0,77.70 492.5,77.70 493.0,77.70 493.5,77.70 494.0,77.70 494.5,77.70 495.0,77.70 495.5,77.70 496.0,77.70 496.5,77.70 497.0,77.70 497.5,77.70 498.0,77.70 498.5,77.70 499.0,77.70 499.5,77.70 500.0,77.70 500.5,77.70 501.0,77.70 501.5,77.70 502.0,77.70 502.5,77.70 503.0,77.70 503.5,77.70 504.0,77.70 504.5,77.70 505.0,77.70 505.5,77.70 506.0,77.70 506.5,77.70" fill="none" stroke="#262626" stroke-width="1.45" stroke-linejoin="round"/>
<polyline points="329.5,100.50 330.0,100.50 330.5,100.50 331.0,100.50 331.5,100.50 332.0,100.50 332.5,100.50 333.0,100.50 333.5,100.50 334.0,100.50 334.5,100.50 335.0,100.50 335.5,100.50 336.0,100.50 336.5,100.50 337.0,100.50 337.5,100.50 338.0,100.50 338.5,100.50 339.0,100.50 339.5,100.50 340.0,100.50 340.5,100.50 341.0,100.50 341.5,100.50 342.0,100.50 342.5,100.50 343.0,100.50 343.5,100.50 344.0,100.50 344.5,100.50 345.0,100.50 345.5,100.50 346.0,100.50 346.5,100.50 347.0,100.50 347.5,100.50 348.0,100.50 348.5,100.50 349.0,100.50 349.5,100.50 350.0,100.50 350.5,100.50 351.0,100.50 351.5,100.50 352.0,100.50 352.5,100.50 353.0,100.50 353.5,100.50 354.0,100.50 354.5,100.50 355.0,100.50 355.5,100.50 356.0,100.50 356.5,100.50 357.0,100.50 357.5,100.50 358.0,100.50 358.5,100.50 359.0,100.50 359.5,100.50 360.0,100.50 360.5,100.50 361.0,100.50 361.5,100.50 362.0,100.50 362.5,100.50 363.0,100.50 363.5,100.50 364.0,100.50 364.5,100.50 365.0,100.50 365.5,100.50 366.0,100.50 366.5,100.50 367.0,100.50 367.5,100.50 368.0,100.50 368.5,100.50 369.0,100.50 369.5,100.50 370.0,100.50 370.5,100.50 371.0,100.50 371.5,100.50 372.0,100.50 372.5,100.50 373.0,100.50 373.5,100.50 374.0,100.50 374.5,100.50 375.0,100.50 375.5,100.50 376.0,100.50 376.5,100.50 377.0,100.50 377.5,100.50 378.0,100.50 378.5,100.50 379.0,100.50 379.5,100.50 380.0,100.50 380.5,100.50 381.0,100.50 381.5,100.50 382.0,100.50 382.5,100.50 383.0,100.50 383.5,100.50 384.0,100.50 384.5,100.50 385.0,100.50 385.5,100.50 386.0,100.50 386.5,100.50 387.0,100.50 387.5,100.50 388.0,100.50 388.5,100.50 389.0,100.50 389.5,100.50 390.0,100.50 390.5,100.50 391.0,100.50 391.5,100.50 392.0,100.50 392.5,100.50 393.0,100.50 393.5,100.50 394.0,100.50 394.5,100.50 395.0,100.50 395.5,100.50 396.0,100.50 396.5,100.50 397.0,100.50 397.5,100.50 398.0,100.50 398.5,100.50 399.0,100.50 399.5,100.50 400.0,100.50 400.5,100.49 401.0,100.49 401.5,100.48 402.0,100.47 402.5,100.46 403.0,100.43 403.5,100.40 404.0,100.35 404.5,100.29 405.0,100.19 405.5,100.06 406.0,99.89 406.5,99.66 407.0,99.36 407.5,98.97 408.0,98.48 408.5,97.88 409.0,97.15 409.5,96.27 410.0,95.26 410.5,94.10 411.0,92.81 411.5,91.42 412.0,89.95 412.5,88.47 413.0,87.02 413.5,85.68 414.0,84.53 414.5,83.66 415.0,83.16 415.5,83.16 416.0,83.45 416.5,83.92 417.0,84.55 417.5,85.30 418.0,86.14 418.5,87.06 419.0,88.03 419.5,89.02 420.0,90.02 420.5,91.01 421.0,91.97 421.5,92.89 422.0,93.77 422.5,94.58 423.0,95.34 423.5,96.03 424.0,96.66 424.5,97.22 425.0,97.72 425.5,98.15 426.0,98.54 426.5,98.87 427.0,99.15 427.5,99.40 428.0,99.60 428.5,99.77 429.0,99.92 429.5,100.03 430.0,100.13 430.5,100.21 431.0,100.27 431.5,100.32 432.0,100.36 432.5,100.39 433.0,100.42 433.5,100.44 434.0,100.45 434.5,100.46 435.0,100.47 435.5,100.48 436.0,100.49 436.5,100.49 437.0,100.49 437.5,100.49 438.0,100.50 438.5,100.50 439.0,100.50 439.5,100.50 440.0,100.50 440.5,100.50 441.0,100.50 441.5,100.50 442.0,100.50 442.5,100.50 443.0,100.50 443.5,100.50 444.0,100.50 444.5,100.50 445.0,100.50 445.5,100.50 446.0,100.50 446.5,100.50 447.0,100.50 447.5,100.50 448.0,100.50 448.5,100.50 449.0,100.50 449.5,100.50 450.0,100.50 450.5,100.50 451.0,100.50 451.5,100.50 452.0,100.50 452.5,100.50 453.0,100.50 453.5,100.50 454.0,100.50 454.5,100.50 455.0,100.50 455.5,100.50 456.0,100.50 456.5,100.50 457.0,100.50 457.5,100.50 458.0,100.50 458.5,100.50 459.0,100.50 459.5,100.50 460.0,100.50 460.5,100.50 461.0,100.50 461.5,100.50 462.0,100.50 462.5,100.50 463.0,100.50 463.5,100.50 464.0,100.50 464.5,100.50 465.0,100.50 465.5,100.50 466.0,100.50 466.5,100.50 467.0,100.50 467.5,100.50 468.0,100.50 468.5,100.50 469.0,100.50 469.5,100.50 470.0,100.50 470.5,100.50 471.0,100.50 471.5,100.50 472.0,100.50 472.5,100.50 473.0,100.50 473.5,100.50 474.0,100.50 474.5,100.50 475.0,100.50 475.5,100.50 476.0,100.50 476.5,100.50 477.0,100.50 477.5,100.50 478.0,100.50 478.5,100.50 479.0,100.50 479.5,100.50 480.0,100.50 480.5,100.50 481.0,100.50 481.5,100.50 482.0,100.50 482.5,100.50 483.0,100.50 483.5,100.50 484.0,100.50 484.5,100.50 485.0,100.50 485.5,100.50 486.0,100.50 486.5,100.50 487.0,100.50 487.5,100.50 488.0,100.50 488.5,100.50 489.0,100.50 489.5,100.50 490.0,100.50 490.5,100.50 491.0,100.50 491.5,100.50 492.0,100.50 492.5,100.50 493.0,100.50 493.5,100.50 494.0,100.50 494.5,100.50 495.0,100.50 495.5,100.50 496.0,100.50 496.5,100.50 497.0,100.50 497.5,100.50 498.0,100.50 498.5,100.50 499.0,100.50 499.5,100.50 500.0,100.50 500.5,100.50 501.0,100.50 501.5,100.50 502.0,100.50 502.5,100.50 503.0,100.50 503.5,100.50 504.0,100.50 504.5,100.50 505.0,100.50 505.5,100.50 506.0,100.50 506.5,100.50" fill="none" stroke="#262626" stroke-width="1.45" stroke-linejoin="round"/>
<polyline points="329.5,121.80 330.0,121.80 330.5,121.80 331.0,121.80 331.5,121.80 332.0,121.80 332.5,121.80 333.0,121.80 333.5,121.80 334.0,121.80 334.5,121.80 335.0,121.80 335.5,121.80 336.0,121.80 336.5,121.80 337.0,121.80 337.5,121.80 338.0,121.80 338.5,121.80 339.0,121.80 339.5,121.80 340.0,121.80 340.5,121.79 341.0,121.78 341.5,121.77 342.0,121.76 342.5,121.75 343.0,121.74 343.5,121.73 344.0,121.72 344.5,121.71 345.0,121.70 345.5,121.69 346.0,121.68 346.5,121.67 347.0,121.66 347.5,121.65 348.0,121.64 348.5,121.63 349.0,121.62 349.5,121.61 350.0,121.60 350.5,121.59 351.0,121.58 351.5,121.57 352.0,121.56 352.5,121.55 353.0,121.54 353.5,121.53 354.0,121.52 354.5,121.51 355.0,121.50 355.5,121.49 356.0,121.48 356.5,121.47 357.0,121.46 357.5,121.45 358.0,121.44 358.5,121.43 359.0,121.42 359.5,121.41 360.0,121.40 360.5,121.39 361.0,121.38 361.5,121.37 362.0,121.36 362.5,121.35 363.0,121.34 363.5,121.33 364.0,121.32 364.5,121.31 365.0,121.30 365.5,121.29 366.0,121.28 366.5,121.26 367.0,121.25 367.5,121.23 368.0,121.22 368.5,121.19 369.0,121.17 369.5,121.13 370.0,121.09 370.5,121.02 371.0,120.94 371.5,120.82 372.0,120.67 372.5,120.45 373.0,120.16 373.5,119.77 374.0,119.25 374.5,118.57 375.0,117.71 375.5,116.66 376.0,115.46 376.5,114.62 377.0,115.00 377.5,115.43 378.0,115.86 378.5,116.29 379.0,116.69 379.5,117.08 380.0,117.44 380.5,117.78 381.0,118.10 381.5,118.39 382.0,118.66 382.5,118.91 383.0,119.13 383.5,119.33 384.0,119.51 384.5,119.68 385.0,119.82 385.5,119.96 386.0,120.08 386.5,120.18 387.0,120.28 387.5,120.36 388.0,120.44 388.5,120.51 389.0,120.56 389.5,120.62 390.0,120.66 390.5,120.71 391.0,120.74 391.5,120.77 392.0,120.80 392.5,120.83 393.0,120.85 393.5,120.87 394.0,120.89 394.5,120.90 395.0,120.91 395.5,120.92 396.0,120.93 396.5,120.94 397.0,120.95 397.5,120.96 398.0,120.96 398.5,120.97 399.0,120.97 399.5,120.98 400.0,120.98 400.5,120.98 401.0,120.98 401.5,120.98 402.0,120.98 402.5,120.98 403.0,120.97 403.5,120.96 404.0,120.95 404.5,120.93 405.0,120.89 405.5,120.84 406.0,120.77 406.5,120.67 407.0,120.54 407.5,120.36 408.0,120.13 408.5,119.84 409.0,119.46 409.5,119.01 410.0,118.46 410.5,117.82 411.0,117.09 411.5,116.29 412.0,115.42 412.5,114.53 413.0,113.65 413.5,112.82 414.0,112.10 414.5,111.55 415.0,111.24 415.5,111.24 416.0,111.43 416.5,111.74 417.0,112.15 417.5,112.64 418.0,113.18 418.5,113.77 419.0,114.37 419.5,114.99 420.0,115.60 420.5,116.19 421.0,116.76 421.5,117.29 422.0,117.79 422.5,118.24 423.0,118.64 423.5,119.01 424.0,119.33 424.5,119.60 425.0,119.84 425.5,120.03 426.0,120.19 426.5,120.32 427.0,120.41 427.5,120.46 428.0,120.49 428.5,120.48 429.0,120.44 429.5,120.35 430.0,120.23 430.5,120.05 431.0,119.83 431.5,119.56 432.0,119.22 432.5,118.83 433.0,118.37 433.5,117.86 434.0,117.30 434.5,116.69 435.0,116.06 435.5,115.42 436.0,114.78 436.5,114.19 437.0,113.66 437.5,113.22 438.0,112.92 438.5,112.80 439.0,112.86 439.5,113.02 440.0,113.25 440.5,113.56 441.0,113.93 441.5,114.33 442.0,114.76 442.5,115.21 443.0,115.68 443.5,116.14 444.0,116.61 444.5,117.06 445.0,117.50 445.5,117.92 446.0,118.31 446.5,118.68 447.0,119.03 447.5,119.34 448.0,119.63 448.5,119.89 449.0,120.13 449.5,120.34 450.0,120.53 450.5,120.69 451.0,120.84 451.5,120.97 452.0,121.08 452.5,121.18 453.0,121.27 453.5,121.34 454.0,121.41 454.5,121.47 455.0,121.52 455.5,121.57 456.0,121.61 456.5,121.65 457.0,121.68 457.5,121.71 458.0,121.74 458.5,121.77 459.0,121.79 459.5,121.82 460.0,121.84 460.5,121.87 461.0,121.89 461.5,121.91 462.0,121.94 462.5,121.96 463.0,121.98 463.5,122.00 464.0,122.02 464.5,122.04 465.0,122.07 465.5,122.09 466.0,122.11 466.5,122.13 467.0,122.15 467.5,122.17 468.0,122.19 468.5,122.22 469.0,122.24 469.5,122.26 470.0,122.28 470.5,122.28 471.0,122.28 471.5,122.28 472.0,122.28 472.5,122.28 473.0,122.28 473.5,122.28 474.0,122.28 474.5,122.28 475.0,122.28 475.5,122.28 476.0,122.28 476.5,122.28 477.0,122.28 477.5,122.28 478.0,122.28 478.5,122.28 479.0,122.28 479.5,122.28 480.0,122.28 480.5,122.28 481.0,122.28 481.5,122.28 482.0,122.28 482.5,122.28 483.0,122.28 483.5,122.28 484.0,122.28 484.5,122.28 485.0,122.28 485.5,122.28 486.0,122.28 486.5,122.28 487.0,122.28 487.5,122.28 488.0,122.28 488.5,122.28 489.0,122.28 489.5,122.28 490.0,122.28 490.5,122.28 491.0,122.28 491.5,122.28 492.0,122.28 492.5,122.28 493.0,122.28 493.5,122.28 494.0,122.28 494.5,122.28 495.0,122.28 495.5,122.28 496.0,122.28 496.5,122.28 497.0,122.28 497.5,122.28 498.0,122.28 498.5,122.28 499.0,122.28 499.5,122.28 500.0,122.28 500.5,122.28 501.0,122.28 501.5,122.28 502.0,122.28 502.5,122.28 503.0,122.28 503.5,122.28 504.0,122.28 504.5,122.28 505.0,122.28 505.5,122.28 506.0,122.28 506.5,122.28" fill="none" stroke="#262626" stroke-width="1.45" stroke-linejoin="round"/>
<polyline points="329.5,141.20 330.0,141.20 330.5,141.20 331.0,141.20 331.5,141.20 332.0,141.20 332.5,141.20 333.0,141.20 333.5,141.20 334.0,141.20 334.5,141.20 335.0,141.20 335.5,141.20 336.0,141.20 336.5,141.20 337.0,141.20 337.5,141.20 338.0,141.20 338.5,141.20 339.0,141.20 339.5,141.20 340.0,141.20 340.5,141.20 341.0,141.20 341.5,141.20 342.0,141.20 342.5,141.20 343.0,141.20 343.5,141.20 344.0,141.20 344.5,141.20 345.0,141.20 345.5,141.20 346.0,141.20 346.5,141.20 347.0,141.19 347.5,141.19 348.0,141.18 348.5,141.16 349.0,141.14 349.5,141.11 350.0,141.05 350.5,140.96 351.0,140.83 351.5,140.62 352.0,140.31 352.5,139.86 353.0,139.21 353.5,138.31 354.0,137.12 354.5,135.69 355.0,135.02 355.5,135.41 356.0,135.84 356.5,136.27 357.0,136.68 357.5,137.08 358.0,137.46 358.5,137.82 359.0,138.14 359.5,138.45 360.0,138.73 360.5,138.98 361.0,139.20 361.5,139.41 362.0,139.59 362.5,139.76 363.0,139.91 363.5,140.05 364.0,140.17 364.5,140.27 365.0,140.37 365.5,140.45 366.0,140.53 366.5,140.59 367.0,140.65 367.5,140.70 368.0,140.74 368.5,140.78 369.0,140.81 369.5,140.84 370.0,140.87 370.5,140.89 371.0,140.91 371.5,140.92 372.0,140.93 372.5,140.94 373.0,140.95 373.5,140.96 374.0,140.96 374.5,140.96 375.0,140.97 375.5,140.97 376.0,140.97 376.5,140.97 377.0,140.97 377.5,140.96 378.0,140.96 378.5,140.96 379.0,140.96 379.5,140.95 380.0,140.95 380.5,140.94 381.0,140.94 381.5,140.93 382.0,140.93 382.5,140.92 383.0,140.92 383.5,140.91 384.0,140.91 384.5,140.90 385.0,140.90 385.5,140.89 386.0,140.89 386.5,140.88 387.0,140.87 387.5,140.87 388.0,140.86 388.5,140.86 389.0,140.85 389.5,140.85 390.0,140.84 390.5,140.83 391.0,140.83 391.5,140.82 392.0,140.82 392.5,140.81 393.0,140.80 393.5,140.80 394.0,140.79 394.5,140.79 395.0,140.78 395.5,140.77 396.0,140.77 396.5,140.76 397.0,140.76 397.5,140.75 398.0,140.74 398.5,140.74 399.0,140.73 399.5,140.73 400.0,140.72 400.5,140.71 401.0,140.71 401.5,140.70 402.0,140.70 402.5,140.69 403.0,140.68 403.5,140.68 404.0,140.67 404.5,140.67 405.0,140.66 405.5,140.65 406.0,140.65 406.5,140.64 407.0,140.64 407.5,140.63 408.0,140.62 408.5,140.62 409.0,140.61 409.5,140.60 410.0,140.59 410.5,140.58 411.0,140.56 411.5,140.53 412.0,140.47 412.5,140.38 413.0,140.23 413.5,139.99 414.0,139.64 414.5,139.14 415.0,138.43 415.5,137.50 416.0,136.30 416.5,134.84 417.0,133.16 417.5,131.34 418.0,129.49 418.5,127.81 419.0,126.51 419.5,125.83 420.0,125.89 420.5,126.17 421.0,126.61 421.5,127.18 422.0,127.85 422.5,128.60 423.0,129.41 423.5,130.25 424.0,131.11 424.5,131.98 425.0,132.82 425.5,133.64 426.0,134.42 426.5,135.15 427.0,135.83 427.5,136.46 428.0,137.03 428.5,137.53 429.0,137.98 429.5,138.37 430.0,138.70 430.5,138.98 431.0,139.20 431.5,139.36 432.0,139.47 432.5,139.53 433.0,139.54 433.5,139.49 434.0,139.39 434.5,139.25 435.0,139.06 435.5,138.83 436.0,138.58 436.5,138.31 437.0,138.04 437.5,137.79 438.0,137.58 438.5,137.43 439.0,137.38 439.5,137.40 440.0,137.44 440.5,137.50 441.0,137.57 441.5,137.66 442.0,137.75 442.5,137.86 443.0,137.98 443.5,138.10 444.0,138.22 444.5,138.35 445.0,138.48 445.5,138.61 446.0,138.75 446.5,138.87 447.0,139.00 447.5,139.12 448.0,139.24 448.5,139.36 449.0,139.47 449.5,139.57 450.0,139.67 450.5,139.76 451.0,139.84 451.5,139.92 452.0,139.99 452.5,140.06 453.0,140.12 453.5,140.18 454.0,140.23 454.5,140.27 455.0,140.31 455.5,140.35 456.0,140.38 456.5,140.41 457.0,140.44 457.5,140.46 458.0,140.48 458.5,140.50 459.0,140.51 459.5,140.53 460.0,140.54 460.5,140.55 461.0,140.56 461.5,140.56 462.0,140.57 462.5,140.57 463.0,140.58 463.5,140.58 464.0,140.59 464.5,140.59 465.0,140.59 465.5,140.59 466.0,140.59 466.5,140.59 467.0,140.60 467.5,140.60 468.0,140.60 468.5,140.60 469.0,140.60 469.5,140.60 470.0,140.60 470.5,140.60 471.0,140.60 471.5,140.60 472.0,140.60 472.5,140.60 473.0,140.60 473.5,140.60 474.0,140.60 474.5,140.60 475.0,140.60 475.5,140.60 476.0,140.60 476.5,140.60 477.0,140.60 477.5,140.60 478.0,140.60 478.5,140.60 479.0,140.60 479.5,140.60 480.0,140.60 480.5,140.60 481.0,140.60 481.5,140.60 482.0,140.60 482.5,140.60 483.0,140.60 483.5,140.60 484.0,140.60 484.5,140.60 485.0,140.60 485.5,140.60 486.0,140.60 486.5,140.60 487.0,140.60 487.5,140.60 488.0,140.60 488.5,140.60 489.0,140.60 489.5,140.60 490.0,140.60 490.5,140.60 491.0,140.60 491.5,140.60 492.0,140.60 492.5,140.60 493.0,140.60 493.5,140.60 494.0,140.60 494.5,140.60 495.0,140.60 495.5,140.60 496.0,140.60 496.5,140.60 497.0,140.60 497.5,140.60 498.0,140.60 498.5,140.60 499.0,140.60 499.5,140.60 500.0,140.60 500.5,140.60 501.0,140.60 501.5,140.60 502.0,140.60 502.5,140.60 503.0,140.60 503.5,140.60 504.0,140.60 504.5,140.60 505.0,140.60 505.5,140.60 506.0,140.60 506.5,140.60" fill="none" stroke="#262626" stroke-width="1.45" stroke-linejoin="round"/>
<text x="329.10" y="50.60" font-size="10" font-weight="bold" text-anchor="start" >P3</text>
<text x="329.10" y="73.60" font-size="10" font-weight="bold" text-anchor="start" >P3K</text>
<text x="329.10" y="96.30" font-size="10" font-weight="bold" text-anchor="start" >P3R</text>
<text x="329.10" y="117.40" font-size="10" font-weight="bold" text-anchor="start" >Xa</text>
<text x="329.10" y="136.40" font-size="10" font-weight="bold" text-anchor="start" >IIa</text>
<text transform="translate(357.00,34.80) rotate(-45)" font-size="10" font-weight="normal" stroke="#111" stroke-width="0.35">21-38</text>
<text transform="translate(378.50,34.60) rotate(-45)" font-size="10" font-weight="normal" stroke="#111" stroke-width="0.35">21-41</text>
<text transform="translate(410.00,34.00) rotate(-45)" font-size="10" font-weight="normal" stroke="#111" stroke-width="0.35">42-65</text>
<text transform="translate(422.60,35.00) rotate(-45)" font-size="10" font-weight="normal" stroke="#111" stroke-width="0.35">39-65</text>
<text transform="translate(440.20,34.60) rotate(-45)" font-size="10" font-weight="normal" stroke="#111" stroke-width="0.35">21-65</text>
<line x1="40.50" y1="213.50" x2="40.50" y2="351.50" stroke="#2e2e2e" stroke-width="1.5" />
<line x1="37.90" y1="351.00" x2="40.50" y2="351.00" stroke="#2e2e2e" stroke-width="1.5" />
<text x="36.60" y="354.60" font-size="10" font-weight="bold" text-anchor="end" >0</text>
<line x1="37.90" y1="326.00" x2="40.50" y2="326.00" stroke="#2e2e2e" stroke-width="1.5" />
<text x="36.60" y="329.60" font-size="10" font-weight="bold" text-anchor="end" >10</text>
<line x1="37.90" y1="301.00" x2="40.50" y2="301.00" stroke="#2e2e2e" stroke-width="1.5" />
<text x="36.60" y="304.60" font-size="10" font-weight="bold" text-anchor="end" >20</text>
<line x1="37.90" y1="276.00" x2="40.50" y2="276.00" stroke="#2e2e2e" stroke-width="1.5" />
<text x="36.60" y="279.60" font-size="10" font-weight="bold" text-anchor="end" >30</text>
<line x1="37.90" y1="251.00" x2="40.50" y2="251.00" stroke="#2e2e2e" stroke-width="1.5" />
<text x="36.60" y="254.60" font-size="10" font-weight="bold" text-anchor="end" >40</text>
<line x1="37.90" y1="226.00" x2="40.50" y2="226.00" stroke="#2e2e2e" stroke-width="1.5" />
<text x="36.60" y="229.60" font-size="10" font-weight="bold" text-anchor="end" >50</text>
<line x1="40.00" y1="351.00" x2="246.90" y2="351.00" stroke="#2e2e2e" stroke-width="1.5" />
<line x1="40.50" y1="351.00" x2="40.50" y2="353.70" stroke="#2e2e2e" stroke-width="1.5" />
<text x="40.50" y="365.50" font-size="10" font-weight="bold" text-anchor="middle" >0</text>
<line x1="80.32" y1="351.00" x2="80.32" y2="353.70" stroke="#2e2e2e" stroke-width="1.5" />
<text x="80.32" y="365.50" font-size="10" font-weight="bold" text-anchor="middle" >50</text>
<line x1="120.14" y1="351.00" x2="120.14" y2="353.70" stroke="#2e2e2e" stroke-width="1.5" />
<text x="120.14" y="365.50" font-size="10" font-weight="bold" text-anchor="middle" >100</text>
<line x1="159.96" y1="351.00" x2="159.96" y2="353.70" stroke="#2e2e2e" stroke-width="1.5" />
<text x="159.96" y="365.50" font-size="10" font-weight="bold" text-anchor="middle" >150</text>
<line x1="199.78" y1="351.00" x2="199.78" y2="353.70" stroke="#2e2e2e" stroke-width="1.5" />
<text x="199.78" y="365.50" font-size="10" font-weight="bold" text-anchor="middle" >200</text>
<line x1="239.60" y1="351.00" x2="239.60" y2="353.70" stroke="#2e2e2e" stroke-width="1.5" />
<text x="239.60" y="365.50" font-size="10" font-weight="bold" text-anchor="middle" >250</text>
<text x="143.70" y="379.80" font-size="11" font-weight="bold" text-anchor="middle" xml:space="preserve">FXa  (nM)</text>
<text transform="translate(13.90,280.00) rotate(-90)" font-size="11" font-weight="bold" text-anchor="middle">PAR1 peptides (&#956;M)</text>
<polyline points="40.50,226.00 41.50,227.75 42.49,229.43 43.49,231.08 44.48,232.69 45.48,234.27 46.47,235.83 47.47,237.36 48.46,238.87 49.46,240.35 50.45,241.81 51.45,243.24 52.45,244.66 53.44,246.05 54.44,247.42 55.43,248.78 56.43,250.11 57.42,251.42 58.42,252.72 59.41,253.99 60.41,255.25 61.41,256.49 62.40,257.71 63.40,258.91 64.39,260.10 65.39,261.27 66.38,262.43 67.38,263.56 68.37,264.68 69.37,265.79 70.36,266.88 71.36,267.96 72.36,269.02 73.35,270.06 74.35,271.09 75.34,272.11 76.34,273.11 77.33,274.10 78.33,275.08 79.32,276.04 80.32,276.99 81.32,277.92 82.31,278.84 83.31,279.75 84.30,280.65 85.30,281.54 86.29,282.41 87.29,283.27 88.28,284.12 89.28,284.96 90.28,285.78 91.27,286.60 92.27,287.40 93.26,288.19 94.26,288.98 95.25,289.75 96.25,290.51 97.24,291.26 98.24,292.00 99.23,292.73 100.23,293.45 101.23,294.16 102.22,294.86 103.22,295.56 104.21,296.24 105.21,296.91 106.20,297.58 107.20,298.23 108.19,298.88 109.19,299.52 110.19,300.14 111.18,300.77 112.18,301.38 113.17,301.98 114.17,302.58 115.16,303.17 116.16,303.75 117.15,304.32 118.15,304.88 119.14,305.44 120.14,305.99 121.14,306.53 122.13,307.07 123.13,307.60 124.12,308.12 125.12,308.63 126.11,309.14 127.11,309.64 128.10,310.13 129.10,310.62 130.09,311.10 131.09,311.57 132.09,312.04 133.08,312.50 134.08,312.96 135.07,313.41 136.07,313.85 137.06,314.29 138.06,314.72 139.05,315.14 140.05,315.57 141.05,315.98 142.04,316.39 143.04,316.79 144.03,317.19 145.03,317.58 146.02,317.97 147.02,318.35 148.01,318.73 149.01,319.10 150.00,319.47 151.00,319.83 152.00,320.19 152.99,320.55 153.99,320.89 154.98,321.24 155.98,321.58 156.97,321.91 157.97,322.24 158.96,322.57 159.96,322.89 160.96,323.21 161.95,323.52 162.95,323.83 163.94,324.14 164.94,324.44 165.93,324.73 166.93,325.03 167.92,325.32 168.92,325.60 169.91,325.88 170.91,326.16 171.91,326.44 172.90,326.71 173.90,326.97 174.89,327.24 175.89,327.50 176.88,327.75 177.88,328.01 178.87,328.26 179.87,328.50 180.87,328.75 181.86,328.99 182.86,329.22 183.85,329.46 184.85,329.69 185.84,329.92 186.84,330.14 187.83,330.36 188.83,330.58 189.82,330.80 190.82,331.01 191.82,331.22 192.81,331.43 193.81,331.63 194.80,331.84 195.80,332.04 196.79,332.23 197.79,332.43 198.78,332.62 199.78,332.81 200.78,332.99 201.77,333.18 202.77,333.36 203.76,333.54 204.76,333.72 205.75,333.89 206.75,334.07 207.74,334.24 208.74,334.40 209.73,334.57 210.73,334.73 211.73,334.89 212.72,335.05 213.72,335.21 214.71,335.37 215.71,335.52 216.70,335.67 217.70,335.82 218.69,335.97 219.69,336.11 220.69,336.26 221.68,336.40 222.68,336.54 223.67,336.68 224.67,336.81 225.66,336.95 226.66,337.08 227.65,337.21 228.65,337.34 229.65,337.47 230.64,337.59 231.64,337.72 232.63,337.84 233.63,337.96 234.62,338.08 235.62,338.20 236.61,338.31 237.61,338.43 238.60,338.54 239.60,338.65" fill="none" stroke="#000" stroke-width="1.2"/>
<polyline points="40.50,351.00 41.50,349.69 42.49,348.13 43.49,346.46 44.48,344.74 45.48,342.98 46.47,341.20 47.47,339.40 48.46,337.60 49.46,335.81 50.45,334.01 51.45,332.23 52.45,330.45 53.44,328.69 54.44,326.94 55.43,325.21 56.43,323.50 57.42,321.80 58.42,320.13 59.41,318.48 60.41,316.85 61.41,315.24 62.40,313.65 63.40,312.09 64.39,310.55 65.39,309.04 66.38,307.55 67.38,306.08 68.37,304.64 69.37,303.22 70.36,301.83 71.36,300.46 72.36,299.12 73.35,297.80 74.35,296.50 75.34,295.23 76.34,293.98 77.33,292.75 78.33,291.55 79.32,290.37 80.32,289.21 81.32,288.08 82.31,286.97 83.31,285.88 84.30,284.81 85.30,283.77 86.29,282.74 87.29,281.74 88.28,280.76 89.28,279.79 90.28,278.85 91.27,277.93 92.27,277.03 93.26,276.14 94.26,275.28 95.25,274.43 96.25,273.60 97.24,272.79 98.24,272.00 99.23,271.23 100.23,270.47 101.23,269.73 102.22,269.01 103.22,268.30 104.21,267.61 105.21,266.93 106.20,266.27 107.20,265.62 108.19,264.99 109.19,264.37 110.19,263.77 111.18,263.18 112.18,262.61 113.17,262.05 114.17,261.50 115.16,260.96 116.16,260.44 117.15,259.93 118.15,259.43 119.14,258.94 120.14,258.47 121.14,258.00 122.13,257.55 123.13,257.11 124.12,256.68 125.12,256.26 126.11,255.84 127.11,255.44 128.10,255.05 129.10,254.67 130.09,254.30 131.09,253.94 132.09,253.58 133.08,253.24 134.08,252.90 135.07,252.57 136.07,252.25 137.06,251.94 138.06,251.63 139.05,251.33 140.05,251.04 141.05,250.76 142.04,250.49 143.04,250.22 144.03,249.96 145.03,249.70 146.02,249.45 147.02,249.21 148.01,248.97 149.01,248.74 150.00,248.52 151.00,248.30 152.00,248.09 152.99,247.88 153.99,247.68 154.98,247.48 155.98,247.29 156.97,247.10 157.97,246.92 158.96,246.74 159.96,246.57 160.96,246.40 161.95,246.24 162.95,246.08 163.94,245.92 164.94,245.77 165.93,245.62 166.93,245.48 167.92,245.34 168.92,245.20 169.91,245.07 170.91,244.94 171.91,244.81 172.90,244.69 173.90,244.57 174.89,244.46 175.89,244.34 176.88,244.23 177.88,244.13 178.87,244.02 179.87,243.92 180.87,243.82 181.86,243.73 182.86,243.63 183.85,243.54 184.85,243.45 185.84,243.37 186.84,243.28 187.83,243.20 188.83,243.12 189.82,243.05 190.82,242.97 191.82,242.90 192.81,242.83 193.81,242.76 194.80,242.69 195.80,242.63 196.79,242.56 197.79,242.50 198.78,242.44 199.78,242.38 200.78,242.32 201.77,242.27 202.77,242.22 203.76,242.16 204.76,242.11 205.75,242.06 206.75,242.01 207.74,241.97 208.74,241.92 209.73,241.88 210.73,241.84 211.73,241.79 212.72,241.75 213.72,241.71 214.71,241.67 215.71,241.64 216.70,241.60 217.70,241.57 218.69,241.53 219.69,241.50 220.69,241.47 221.68,241.43 222.68,241.40 223.67,241.37 224.67,241.35 225.66,241.32 226.66,241.29 227.65,241.26 228.65,241.24 229.65,241.21 230.64,241.19 231.64,241.16 232.63,241.14 233.63,241.12 234.62,241.10 235.62,241.08 236.61,241.06 237.61,241.04 238.60,241.02 239.60,241.00" fill="none" stroke="#000" stroke-width="1.2"/>
<polyline points="40.50,351.00 41.50,349.65 42.49,348.09 43.49,346.47 44.48,344.80 45.48,343.11 46.47,341.41 47.47,339.71 48.46,338.01 49.46,336.31 50.45,334.62 51.45,332.94 52.45,331.27 53.44,329.61 54.44,327.98 55.43,326.35 56.43,324.75 57.42,323.16 58.42,321.60 59.41,320.05 60.41,318.52 61.41,317.01 62.40,315.53 63.40,314.06 64.39,312.62 65.39,311.19 66.38,309.79 67.38,308.41 68.37,307.05 69.37,305.71 70.36,304.39 71.36,303.10 72.36,301.82 73.35,300.57 74.35,299.34 75.34,298.13 76.34,296.93 77.33,295.76 78.33,294.61 79.32,293.48 80.32,292.37 81.32,291.28 82.31,290.21 83.31,289.15 84.30,288.12 85.30,287.11 86.29,286.11 87.29,285.13 88.28,284.17 89.28,283.23 90.28,282.31 91.27,281.40 92.27,280.51 93.26,279.64 94.26,278.78 95.25,277.94 96.25,277.12 97.24,276.31 98.24,275.52 99.23,274.74 100.23,273.98 101.23,273.23 102.22,272.50 103.22,271.78 104.21,271.08 105.21,270.39 106.20,269.71 107.20,269.05 108.19,268.40 109.19,267.77 110.19,267.15 111.18,266.54 112.18,265.94 113.17,265.35 114.17,264.78 115.16,264.22 116.16,263.67 117.15,263.13 118.15,262.60 119.14,262.08 120.14,261.58 121.14,261.08 122.13,260.60 123.13,260.12 124.12,259.66 125.12,259.20 126.11,258.75 127.11,258.32 128.10,257.89 129.10,257.47 130.09,257.06 131.09,256.66 132.09,256.27 133.08,255.89 134.08,255.51 135.07,255.14 136.07,254.78 137.06,254.43 138.06,254.09 139.05,253.75 140.05,253.42 141.05,253.10 142.04,252.78 143.04,252.48 144.03,252.17 145.03,251.88 146.02,251.59 147.02,251.31 148.01,251.03 149.01,250.76 150.00,250.50 151.00,250.24 152.00,249.98 152.99,249.74 153.99,249.50 154.98,249.26 155.98,249.03 156.97,248.80 157.97,248.58 158.96,248.36 159.96,248.15 160.96,247.95 161.95,247.74 162.95,247.55 163.94,247.35 164.94,247.17 165.93,246.98 166.93,246.80 167.92,246.62 168.92,246.45 169.91,246.28 170.91,246.12 171.91,245.96 172.90,245.80 173.90,245.65 174.89,245.50 175.89,245.35 176.88,245.21 177.88,245.07 178.87,244.93 179.87,244.80 180.87,244.67 181.86,244.54 182.86,244.41 183.85,244.29 184.85,244.17 185.84,244.06 186.84,243.94 187.83,243.83 188.83,243.72 189.82,243.62 190.82,243.51 191.82,243.41 192.81,243.31 193.81,243.22 194.80,243.12 195.80,243.03 196.79,242.94 197.79,242.85 198.78,242.77 199.78,242.68 200.78,242.60 201.77,242.52 202.77,242.44 203.76,242.37 204.76,242.29 205.75,242.22 206.75,242.15 207.74,242.08 208.74,242.01 209.73,241.94 210.73,241.88 211.73,241.82 212.72,241.76 213.72,241.69 214.71,241.64 215.71,241.58 216.70,241.52 217.70,241.47 218.69,241.41 219.69,241.36 220.69,241.31 221.68,241.26 222.68,241.21 223.67,241.17 224.67,241.12 225.66,241.08 226.66,241.03 227.65,240.99 228.65,240.95 229.65,240.91 230.64,240.87 231.64,240.83 232.63,240.79 233.63,240.75 234.62,240.71 235.62,240.68 236.61,240.64 237.61,240.61 238.60,240.58 239.60,240.55" fill="none" stroke="#000" stroke-width="1.2"/>
<rect x="37.55" y="223.05" width="5.9" height="5.9" fill="#000"/>
<rect x="45.51" y="238.05" width="5.9" height="5.9" fill="#000"/>
<rect x="57.46" y="242.55" width="5.9" height="5.9" fill="#000"/>
<rect x="77.37" y="274.05" width="5.9" height="5.9" fill="#000"/>
<rect x="117.19" y="306.05" width="5.9" height="5.9" fill="#000"/>
<rect x="157.01" y="319.05" width="5.9" height="5.9" fill="#000"/>
<rect x="196.83" y="332.05" width="5.9" height="5.9" fill="#000"/>
<rect x="236.65" y="334.55" width="5.9" height="5.9" fill="#000"/>
<circle cx="40.50" cy="351.00" r="2.7" fill="#fff" stroke="#000" stroke-width="1"/>
<circle cx="48.46" cy="328.25" r="2.7" fill="#fff" stroke="#000" stroke-width="1"/>
<circle cx="60.41" cy="319.25" r="2.7" fill="#fff" stroke="#000" stroke-width="1"/>
<circle cx="80.32" cy="289.75" r="2.7" fill="#fff" stroke="#000" stroke-width="1"/>
<circle cx="120.14" cy="260.00" r="2.7" fill="#fff" stroke="#000" stroke-width="1"/>
<circle cx="159.96" cy="249.00" r="2.7" fill="#fff" stroke="#000" stroke-width="1"/>
<circle cx="199.78" cy="241.50" r="2.7" fill="#fff" stroke="#000" stroke-width="1"/>
<circle cx="239.60" cy="239.25" r="2.7" fill="#fff" stroke="#000" stroke-width="1"/>
<rect x="37.80" y="348.30" width="5.4" height="5.4" fill="#fff" stroke="#000" stroke-width="1"/>
<rect x="45.76" y="330.30" width="5.4" height="5.4" fill="#fff" stroke="#000" stroke-width="1"/>
<rect x="57.71" y="320.80" width="5.4" height="5.4" fill="#fff" stroke="#000" stroke-width="1"/>
<rect x="77.62" y="291.30" width="5.4" height="5.4" fill="#fff" stroke="#000" stroke-width="1"/>
<rect x="117.44" y="260.80" width="5.4" height="5.4" fill="#fff" stroke="#000" stroke-width="1"/>
<rect x="157.26" y="247.55" width="5.4" height="5.4" fill="#fff" stroke="#000" stroke-width="1"/>
<rect x="197.08" y="239.30" width="5.4" height="5.4" fill="#fff" stroke="#000" stroke-width="1"/>
<rect x="236.90" y="236.55" width="5.4" height="5.4" fill="#fff" stroke="#000" stroke-width="1"/>
<rect x="181.50" y="272.30" width="5.8" height="5.8" fill="#000"/>
<text x="196.60" y="279.20" font-size="11" font-weight="normal" text-anchor="start" >P1 33-62</text>
<circle cx="184.40" cy="286.80" r="2.7" fill="#fff" stroke="#000" stroke-width="1"/>
<text x="196.60" y="290.80" font-size="11" font-weight="normal" text-anchor="start" >P1 42-62</text>
<rect x="181.80" y="295.80" width="5.2" height="5.2" fill="#fff" stroke="#000" stroke-width="1"/>
<text x="196.60" y="302.40" font-size="11" font-weight="normal" text-anchor="start" >P1 33-41</text>
<line x1="40.70" y1="412.30" x2="40.70" y2="550.30" stroke="#2e2e2e" stroke-width="1.5" />
<line x1="38.10" y1="549.80" x2="40.70" y2="549.80" stroke="#2e2e2e" stroke-width="1.5" />
<text x="36.80" y="553.40" font-size="10" font-weight="bold" text-anchor="end" >0</text>
<line x1="38.10" y1="524.80" x2="40.70" y2="524.80" stroke="#2e2e2e" stroke-width="1.5" />
<text x="36.80" y="528.40" font-size="10" font-weight="bold" text-anchor="end" >10</text>
<line x1="38.10" y1="499.80" x2="40.70" y2="499.80" stroke="#2e2e2e" stroke-width="1.5" />
<text x="36.80" y="503.40" font-size="10" font-weight="bold" text-anchor="end" >20</text>
<line x1="38.10" y1="474.80" x2="40.70" y2="474.80" stroke="#2e2e2e" stroke-width="1.5" />
<text x="36.80" y="478.40" font-size="10" font-weight="bold" text-anchor="end" >30</text>
<line x1="38.10" y1="449.80" x2="40.70" y2="449.80" stroke="#2e2e2e" stroke-width="1.5" />
<text x="36.80" y="453.40" font-size="10" font-weight="bold" text-anchor="end" >40</text>
<line x1="38.10" y1="424.80" x2="40.70" y2="424.80" stroke="#2e2e2e" stroke-width="1.5" />
<text x="36.80" y="428.40" font-size="10" font-weight="bold" text-anchor="end" >50</text>
<line x1="40.20" y1="549.80" x2="247.00" y2="549.80" stroke="#2e2e2e" stroke-width="1.5" />
<line x1="40.70" y1="549.80" x2="40.70" y2="552.50" stroke="#2e2e2e" stroke-width="1.5" />
<text x="40.70" y="564.30" font-size="10" font-weight="bold" text-anchor="middle" >0</text>
<line x1="80.10" y1="549.80" x2="80.10" y2="552.50" stroke="#2e2e2e" stroke-width="1.5" />
<text x="80.10" y="564.30" font-size="10" font-weight="bold" text-anchor="middle" >2</text>
<line x1="119.50" y1="549.80" x2="119.50" y2="552.50" stroke="#2e2e2e" stroke-width="1.5" />
<text x="119.50" y="564.30" font-size="10" font-weight="bold" text-anchor="middle" >4</text>
<line x1="158.90" y1="549.80" x2="158.90" y2="552.50" stroke="#2e2e2e" stroke-width="1.5" />
<text x="158.90" y="564.30" font-size="10" font-weight="bold" text-anchor="middle" >6</text>
<line x1="198.30" y1="549.80" x2="198.30" y2="552.50" stroke="#2e2e2e" stroke-width="1.5" />
<text x="198.30" y="564.30" font-size="10" font-weight="bold" text-anchor="middle" >8</text>
<line x1="237.70" y1="549.80" x2="237.70" y2="552.50" stroke="#2e2e2e" stroke-width="1.5" />
<text x="237.70" y="564.30" font-size="10" font-weight="bold" text-anchor="middle" >10</text>
<text x="143.85" y="578.60" font-size="11" font-weight="bold" text-anchor="middle" xml:space="preserve">Time (hrs)</text>
<text transform="translate(14.10,478.80) rotate(-90)" font-size="11" font-weight="bold" text-anchor="middle">PAR1 peptides (&#956;M)</text>
<polyline points="40.70,424.80 41.69,425.68 42.67,426.69 43.66,427.76 44.64,428.85 45.62,429.97 46.61,431.10 47.59,432.23 48.58,433.38 49.57,434.52 50.55,435.67 51.54,436.82 52.52,437.97 53.51,439.12 54.49,440.26 55.48,441.40 56.46,442.53 57.45,443.66 58.43,444.78 59.42,445.90 60.40,447.01 61.39,448.11 62.37,449.20 63.36,450.29 64.34,451.37 65.33,452.44 66.31,453.51 67.30,454.56 68.28,455.61 69.27,456.65 70.25,457.67 71.23,458.69 72.22,459.71 73.20,460.71 74.19,461.70 75.18,462.68 76.16,463.66 77.15,464.62 78.13,465.58 79.12,466.52 80.10,467.46 81.09,468.39 82.07,469.30 83.06,470.21 84.04,471.11 85.03,472.00 86.01,472.88 87.00,473.75 87.98,474.61 88.97,475.47 89.95,476.31 90.94,477.14 91.92,477.97 92.91,478.78 93.89,479.59 94.88,480.39 95.86,481.18 96.84,481.96 97.83,482.73 98.81,483.49 99.80,484.24 100.78,484.99 101.77,485.72 102.75,486.45 103.74,487.17 104.72,487.88 105.71,488.58 106.70,489.28 107.68,489.96 108.67,490.64 109.65,491.31 110.63,491.97 111.62,492.62 112.61,493.27 113.59,493.91 114.58,494.54 115.56,495.16 116.55,495.77 117.53,496.38 118.52,496.98 119.50,497.57 120.48,498.15 121.47,498.73 122.46,499.30 123.44,499.86 124.42,500.42 125.41,500.97 126.39,501.51 127.38,502.05 128.37,502.58 129.35,503.10 130.33,503.61 131.32,504.12 132.31,504.62 133.29,505.12 134.28,505.61 135.26,506.09 136.25,506.57 137.23,507.04 138.22,507.50 139.20,507.96 140.19,508.41 141.17,508.86 142.16,509.30 143.14,509.73 144.12,510.16 145.11,510.59 146.09,511.00 147.08,511.42 148.06,511.82 149.05,512.22 150.03,512.62 151.02,513.01 152.00,513.40 152.99,513.78 153.97,514.15 154.96,514.52 155.94,514.89 156.93,515.25 157.92,515.60 158.90,515.95 159.88,516.30 160.87,516.64 161.86,516.98 162.84,517.31 163.82,517.64 164.81,517.96 165.79,518.28 166.78,518.59 167.76,518.90 168.75,519.21 169.74,519.51 170.72,519.81 171.70,520.10 172.69,520.39 173.68,520.68 174.66,520.96 175.64,521.24 176.63,521.51 177.62,521.78 178.60,522.05 179.58,522.31 180.57,522.57 181.56,522.82 182.54,523.08 183.52,523.32 184.51,523.57 185.50,523.81 186.48,524.05 187.46,524.28 188.45,524.52 189.44,524.74 190.42,524.97 191.41,525.19 192.39,525.41 193.38,525.62 194.36,525.84 195.34,526.05 196.33,526.25 197.31,526.46 198.30,526.66 199.29,526.85 200.27,527.05 201.25,527.24 202.24,527.43 203.23,527.62 204.21,527.80 205.19,527.98 206.18,528.16 207.16,528.34 208.15,528.51 209.13,528.68 210.12,528.85 211.11,529.02 212.09,529.18 213.07,529.35 214.06,529.51 215.05,529.66 216.03,529.82 217.01,529.97 218.00,530.12 218.99,530.27 219.97,530.41 220.95,530.56 221.94,530.70 222.93,530.84 223.91,530.98 224.89,531.11 225.88,531.25 226.87,531.38 227.85,531.51 228.84,531.64 229.82,531.76 230.81,531.89 231.79,532.01 232.77,532.13 233.76,532.25 234.75,532.37 235.73,532.48 236.71,532.60 237.70,532.71" fill="none" stroke="#000" stroke-width="1.2"/>
<polyline points="40.70,549.80 41.69,547.84 42.67,545.93 43.66,544.06 44.64,542.24 45.62,540.44 46.61,538.68 47.59,536.95 48.58,535.25 49.57,533.59 50.55,531.95 51.54,530.34 52.52,528.76 53.51,527.20 54.49,525.67 55.48,524.17 56.46,522.69 57.45,521.24 58.43,519.81 59.42,518.41 60.40,517.03 61.39,515.67 62.37,514.34 63.36,513.03 64.34,511.74 65.33,510.47 66.31,509.22 67.30,508.00 68.28,506.79 69.27,505.61 70.25,504.44 71.23,503.29 72.22,502.17 73.20,501.06 74.19,499.97 75.18,498.89 76.16,497.84 77.15,496.80 78.13,495.78 79.12,494.78 80.10,493.79 81.09,492.82 82.07,491.87 83.06,490.93 84.04,490.00 85.03,489.10 86.01,488.20 87.00,487.32 87.98,486.46 88.97,485.61 89.95,484.77 90.94,483.95 91.92,483.14 92.91,482.35 93.89,481.56 94.88,480.79 95.86,480.04 96.84,479.29 97.83,478.56 98.81,477.84 99.80,477.13 100.78,476.43 101.77,475.75 102.75,475.07 103.74,474.41 104.72,473.75 105.71,473.11 106.70,472.48 107.68,471.86 108.67,471.25 109.65,470.65 110.63,470.05 111.62,469.47 112.61,468.90 113.59,468.34 114.58,467.78 115.56,467.24 116.55,466.70 117.53,466.17 118.52,465.66 119.50,465.15 120.48,464.64 121.47,464.15 122.46,463.66 123.44,463.19 124.42,462.71 125.41,462.25 126.39,461.80 127.38,461.35 128.37,460.91 129.35,460.48 130.33,460.05 131.32,459.63 132.31,459.22 133.29,458.81 134.28,458.41 135.26,458.02 136.25,457.63 137.23,457.25 138.22,456.88 139.20,456.51 140.19,456.15 141.17,455.79 142.16,455.44 143.14,455.10 144.12,454.76 145.11,454.42 146.09,454.10 147.08,453.77 148.06,453.45 149.05,453.14 150.03,452.83 151.02,452.53 152.00,452.23 152.99,451.94 153.97,451.65 154.96,451.37 155.94,451.09 156.93,450.82 157.92,450.55 158.90,450.28 159.88,450.02 160.87,449.76 161.86,449.51 162.84,449.26 163.82,449.02 164.81,448.77 165.79,448.54 166.78,448.30 167.76,448.08 168.75,447.85 169.74,447.63 170.72,447.41 171.70,447.19 172.69,446.98 173.68,446.77 174.66,446.57 175.64,446.37 176.63,446.17 177.62,445.98 178.60,445.78 179.58,445.59 180.57,445.41 181.56,445.23 182.54,445.05 183.52,444.87 184.51,444.70 185.50,444.52 186.48,444.36 187.46,444.19 188.45,444.03 189.44,443.87 190.42,443.71 191.41,443.55 192.39,443.40 193.38,443.25 194.36,443.10 195.34,442.96 196.33,442.81 197.31,442.67 198.30,442.53 199.29,442.40 200.27,442.26 201.25,442.13 202.24,442.00 203.23,441.87 204.21,441.75 205.19,441.62 206.18,441.50 207.16,441.38 208.15,441.26 209.13,441.15 210.12,441.03 211.11,440.92 212.09,440.81 213.07,440.70 214.06,440.60 215.05,440.49 216.03,440.39 217.01,440.29 218.00,440.18 218.99,440.09 219.97,439.99 220.95,439.89 221.94,439.80 222.93,439.71 223.91,439.62 224.89,439.53 225.88,439.44 226.87,439.35 227.85,439.27 228.84,439.18 229.82,439.10 230.81,439.02 231.79,438.94 232.77,438.86 233.76,438.78 234.75,438.71 235.73,438.63 236.71,438.56 237.70,438.49" fill="none" stroke="#000" stroke-width="1.2"/>
<polyline points="40.70,549.80 41.69,548.11 42.67,546.41 43.66,544.73 44.64,543.07 45.62,541.43 46.61,539.81 47.59,538.22 48.58,536.64 49.57,535.09 50.55,533.56 51.54,532.05 52.52,530.56 53.51,529.10 54.49,527.65 55.48,526.23 56.46,524.83 57.45,523.45 58.43,522.09 59.42,520.75 60.40,519.43 61.39,518.13 62.37,516.85 63.36,515.59 64.34,514.35 65.33,513.13 66.31,511.92 67.30,510.74 68.28,509.57 69.27,508.42 70.25,507.28 71.23,506.17 72.22,505.07 73.20,503.99 74.19,502.92 75.18,501.88 76.16,500.84 77.15,499.83 78.13,498.83 79.12,497.84 80.10,496.87 81.09,495.91 82.07,494.97 83.06,494.05 84.04,493.14 85.03,492.24 86.01,491.35 87.00,490.48 87.98,489.63 88.97,488.78 89.95,487.95 90.94,487.14 91.92,486.33 92.91,485.54 93.89,484.76 94.88,483.99 95.86,483.24 96.84,482.49 97.83,481.76 98.81,481.04 99.80,480.33 100.78,479.63 101.77,478.94 102.75,478.27 103.74,477.60 104.72,476.94 105.71,476.30 106.70,475.66 107.68,475.04 108.67,474.42 109.65,473.81 110.63,473.22 111.62,472.63 112.61,472.05 113.59,471.48 114.58,470.92 115.56,470.37 116.55,469.83 117.53,469.29 118.52,468.77 119.50,468.25 120.48,467.74 121.47,467.24 122.46,466.74 123.44,466.26 124.42,465.78 125.41,465.31 126.39,464.84 127.38,464.39 128.37,463.94 129.35,463.50 130.33,463.06 131.32,462.63 132.31,462.21 133.29,461.80 134.28,461.39 135.26,460.99 136.25,460.59 137.23,460.20 138.22,459.82 139.20,459.44 140.19,459.07 141.17,458.70 142.16,458.34 143.14,457.99 144.12,457.64 145.11,457.30 146.09,456.96 147.08,456.63 148.06,456.30 149.05,455.98 150.03,455.66 151.02,455.35 152.00,455.05 152.99,454.74 153.97,454.45 154.96,454.15 155.94,453.87 156.93,453.58 157.92,453.30 158.90,453.03 159.88,452.76 160.87,452.49 161.86,452.23 162.84,451.98 163.82,451.72 164.81,451.47 165.79,451.23 166.78,450.99 167.76,450.75 168.75,450.51 169.74,450.28 170.72,450.06 171.70,449.83 172.69,449.62 173.68,449.40 174.66,449.19 175.64,448.98 176.63,448.77 177.62,448.57 178.60,448.37 179.58,448.17 180.57,447.98 181.56,447.79 182.54,447.60 183.52,447.42 184.51,447.24 185.50,447.06 186.48,446.88 187.46,446.71 188.45,446.54 189.44,446.37 190.42,446.21 191.41,446.05 192.39,445.89 193.38,445.73 194.36,445.58 195.34,445.42 196.33,445.28 197.31,445.13 198.30,444.98 199.29,444.84 200.27,444.70 201.25,444.56 202.24,444.43 203.23,444.29 204.21,444.16 205.19,444.03 206.18,443.90 207.16,443.78 208.15,443.66 209.13,443.53 210.12,443.41 211.11,443.30 212.09,443.18 213.07,443.07 214.06,442.96 215.05,442.85 216.03,442.74 217.01,442.63 218.00,442.52 218.99,442.42 219.97,442.32 220.95,442.22 221.94,442.12 222.93,442.02 223.91,441.93 224.89,441.83 225.88,441.74 226.87,441.65 227.85,441.56 228.84,441.47 229.82,441.39 230.81,441.30 231.79,441.22 232.77,441.13 233.76,441.05 234.75,440.97 235.73,440.89 236.71,440.82 237.70,440.74" fill="none" stroke="#000" stroke-width="1.2"/>
<line x1="80.10" y1="462.42" x2="80.10" y2="471.67" stroke="#2e2e2e" stroke-width="1" />
<line x1="77.70" y1="462.42" x2="82.50" y2="462.42" stroke="#2e2e2e" stroke-width="1" />
<line x1="77.70" y1="471.67" x2="82.50" y2="471.67" stroke="#2e2e2e" stroke-width="1" />
<rect x="37.75" y="421.85" width="5.9" height="5.9" fill="#000"/>
<rect x="57.45" y="444.10" width="5.9" height="5.9" fill="#000"/>
<rect x="77.15" y="464.10" width="5.9" height="5.9" fill="#000"/>
<rect x="96.85" y="481.35" width="5.9" height="5.9" fill="#000"/>
<rect x="116.55" y="495.85" width="5.9" height="5.9" fill="#000"/>
<rect x="136.25" y="505.10" width="5.9" height="5.9" fill="#000"/>
<rect x="155.95" y="512.60" width="5.9" height="5.9" fill="#000"/>
<rect x="175.65" y="518.85" width="5.9" height="5.9" fill="#000"/>
<rect x="195.35" y="522.35" width="5.9" height="5.9" fill="#000"/>
<rect x="215.05" y="528.35" width="5.9" height="5.9" fill="#000"/>
<rect x="234.75" y="529.85" width="5.9" height="5.9" fill="#000"/>
<circle cx="40.70" cy="549.80" r="2.7" fill="#fff" stroke="#000" stroke-width="1"/>
<circle cx="60.40" cy="515.80" r="2.7" fill="#fff" stroke="#000" stroke-width="1"/>
<circle cx="80.10" cy="494.80" r="2.7" fill="#fff" stroke="#000" stroke-width="1"/>
<circle cx="99.80" cy="476.80" r="2.7" fill="#fff" stroke="#000" stroke-width="1"/>
<circle cx="119.50" cy="466.30" r="2.7" fill="#fff" stroke="#000" stroke-width="1"/>
<circle cx="139.20" cy="457.05" r="2.7" fill="#fff" stroke="#000" stroke-width="1"/>
<circle cx="158.90" cy="450.30" r="2.7" fill="#fff" stroke="#000" stroke-width="1"/>
<circle cx="178.60" cy="444.05" r="2.7" fill="#fff" stroke="#000" stroke-width="1"/>
<circle cx="198.30" cy="441.30" r="2.7" fill="#fff" stroke="#000" stroke-width="1"/>
<circle cx="218.00" cy="438.05" r="2.7" fill="#fff" stroke="#000" stroke-width="1"/>
<circle cx="237.70" cy="440.30" r="2.7" fill="#fff" stroke="#000" stroke-width="1"/>
<rect x="38.00" y="547.10" width="5.4" height="5.4" fill="#fff" stroke="#000" stroke-width="1"/>
<rect x="57.70" y="516.35" width="5.4" height="5.4" fill="#fff" stroke="#000" stroke-width="1"/>
<rect x="77.40" y="493.85" width="5.4" height="5.4" fill="#fff" stroke="#000" stroke-width="1"/>
<rect x="97.10" y="477.60" width="5.4" height="5.4" fill="#fff" stroke="#000" stroke-width="1"/>
<rect x="116.80" y="467.10" width="5.4" height="5.4" fill="#fff" stroke="#000" stroke-width="1"/>
<rect x="136.50" y="457.10" width="5.4" height="5.4" fill="#fff" stroke="#000" stroke-width="1"/>
<rect x="156.20" y="450.60" width="5.4" height="5.4" fill="#fff" stroke="#000" stroke-width="1"/>
<rect x="175.90" y="443.60" width="5.4" height="5.4" fill="#fff" stroke="#000" stroke-width="1"/>
<rect x="195.60" y="441.35" width="5.4" height="5.4" fill="#fff" stroke="#000" stroke-width="1"/>
<rect x="215.30" y="438.60" width="5.4" height="5.4" fill="#fff" stroke="#000" stroke-width="1"/>
<rect x="235.00" y="439.35" width="5.4" height="5.4" fill="#fff" stroke="#000" stroke-width="1"/>
<rect x="181.50" y="472.30" width="5.8" height="5.8" fill="#000"/>
<text x="196.60" y="479.20" font-size="11" font-weight="normal" text-anchor="start" >P1 33-62</text>
<circle cx="184.40" cy="486.80" r="2.7" fill="#fff" stroke="#000" stroke-width="1"/>
<text x="196.60" y="490.80" font-size="11" font-weight="normal" text-anchor="start" >P1 42-62</text>
<rect x="181.80" y="495.80" width="5.2" height="5.2" fill="#fff" stroke="#000" stroke-width="1"/>
<text x="196.60" y="502.40" font-size="11" font-weight="normal" text-anchor="start" >P1 33-41</text>
<line x1="311.40" y1="213.50" x2="311.40" y2="351.50" stroke="#2e2e2e" stroke-width="1.5" />
<line x1="308.80" y1="351.00" x2="311.40" y2="351.00" stroke="#2e2e2e" stroke-width="1.5" />
<text x="307.50" y="354.60" font-size="10" font-weight="bold" text-anchor="end" >0</text>
<line x1="308.80" y1="326.00" x2="311.40" y2="326.00" stroke="#2e2e2e" stroke-width="1.5" />
<text x="307.50" y="329.60" font-size="10" font-weight="bold" text-anchor="end" >10</text>
<line x1="308.80" y1="301.00" x2="311.40" y2="301.00" stroke="#2e2e2e" stroke-width="1.5" />
<text x="307.50" y="304.60" font-size="10" font-weight="bold" text-anchor="end" >20</text>
<line x1="308.80" y1="276.00" x2="311.40" y2="276.00" stroke="#2e2e2e" stroke-width="1.5" />
<text x="307.50" y="279.60" font-size="10" font-weight="bold" text-anchor="end" >30</text>
<line x1="308.80" y1="251.00" x2="311.40" y2="251.00" stroke="#2e2e2e" stroke-width="1.5" />
<text x="307.50" y="254.60" font-size="10" font-weight="bold" text-anchor="end" >40</text>
<line x1="308.80" y1="226.00" x2="311.40" y2="226.00" stroke="#2e2e2e" stroke-width="1.5" />
<text x="307.50" y="229.60" font-size="10" font-weight="bold" text-anchor="end" >50</text>
<line x1="310.90" y1="351.00" x2="518.50" y2="351.00" stroke="#2e2e2e" stroke-width="1.5" />
<line x1="311.40" y1="351.00" x2="311.40" y2="353.70" stroke="#2e2e2e" stroke-width="1.5" />
<text x="311.40" y="365.50" font-size="10" font-weight="bold" text-anchor="middle" >0</text>
<line x1="351.08" y1="351.00" x2="351.08" y2="353.70" stroke="#2e2e2e" stroke-width="1.5" />
<text x="351.08" y="365.50" font-size="10" font-weight="bold" text-anchor="middle" >50</text>
<line x1="390.76" y1="351.00" x2="390.76" y2="353.70" stroke="#2e2e2e" stroke-width="1.5" />
<text x="390.76" y="365.50" font-size="10" font-weight="bold" text-anchor="middle" >100</text>
<line x1="430.44" y1="351.00" x2="430.44" y2="353.70" stroke="#2e2e2e" stroke-width="1.5" />
<text x="430.44" y="365.50" font-size="10" font-weight="bold" text-anchor="middle" >150</text>
<line x1="470.12" y1="351.00" x2="470.12" y2="353.70" stroke="#2e2e2e" stroke-width="1.5" />
<text x="470.12" y="365.50" font-size="10" font-weight="bold" text-anchor="middle" >200</text>
<line x1="509.80" y1="351.00" x2="509.80" y2="353.70" stroke="#2e2e2e" stroke-width="1.5" />
<text x="509.80" y="365.50" font-size="10" font-weight="bold" text-anchor="middle" >250</text>
<text x="414.95" y="379.80" font-size="11" font-weight="bold" text-anchor="middle" xml:space="preserve">FXa  (nM)</text>
<text transform="translate(284.80,280.00) rotate(-90)" font-size="11" font-weight="bold" text-anchor="middle">PAR3 peptides (&#956;M)</text>
<polyline points="311.40,226.00 312.39,228.41 313.38,230.60 314.38,232.69 315.37,234.70 316.36,236.65 317.35,238.55 318.34,240.39 319.34,242.18 320.33,243.94 321.32,245.65 322.31,247.32 323.30,248.96 324.30,250.56 325.29,252.13 326.28,253.66 327.27,255.17 328.26,256.64 329.26,258.08 330.25,259.50 331.24,260.89 332.23,262.25 333.22,263.58 334.22,264.89 335.21,266.18 336.20,267.44 337.19,268.67 338.18,269.89 339.18,271.08 340.17,272.25 341.16,273.40 342.15,274.53 343.14,275.64 344.14,276.72 345.13,277.79 346.12,278.84 347.11,279.87 348.10,280.89 349.10,281.88 350.09,282.86 351.08,283.82 352.07,284.76 353.06,285.69 354.06,286.60 355.05,287.50 356.04,288.38 357.03,289.24 358.02,290.09 359.02,290.93 360.01,291.75 361.00,292.56 361.99,293.35 362.98,294.13 363.98,294.90 364.97,295.65 365.96,296.40 366.95,297.12 367.94,297.84 368.94,298.55 369.93,299.24 370.92,299.92 371.91,300.59 372.90,301.25 373.90,301.90 374.89,302.54 375.88,303.17 376.87,303.78 377.86,304.39 378.86,304.99 379.85,305.57 380.84,306.15 381.83,306.72 382.82,307.28 383.82,307.83 384.81,308.37 385.80,308.90 386.79,309.42 387.78,309.94 388.78,310.44 389.77,310.94 390.76,311.43 391.75,311.91 392.74,312.39 393.74,312.85 394.73,313.31 395.72,313.77 396.71,314.21 397.70,314.65 398.70,315.08 399.69,315.50 400.68,315.92 401.67,316.33 402.66,316.73 403.66,317.13 404.65,317.52 405.64,317.90 406.63,318.28 407.62,318.66 408.62,319.02 409.61,319.38 410.60,319.74 411.59,320.09 412.58,320.43 413.58,320.77 414.57,321.10 415.56,321.43 416.55,321.75 417.54,322.07 418.54,322.38 419.53,322.69 420.52,322.99 421.51,323.29 422.50,323.58 423.50,323.87 424.49,324.16 425.48,324.44 426.47,324.71 427.46,324.98 428.46,325.25 429.45,325.51 430.44,325.77 431.43,326.03 432.42,326.28 433.42,326.52 434.41,326.77 435.40,327.01 436.39,327.24 437.38,327.47 438.38,327.70 439.37,327.93 440.36,328.15 441.35,328.36 442.34,328.58 443.34,328.79 444.33,329.00 445.32,329.20 446.31,329.40 447.30,329.60 448.30,329.80 449.29,329.99 450.28,330.18 451.27,330.36 452.26,330.55 453.26,330.73 454.25,330.91 455.24,331.08 456.23,331.25 457.22,331.42 458.22,331.59 459.21,331.76 460.20,331.92 461.19,332.08 462.18,332.23 463.18,332.39 464.17,332.54 465.16,332.69 466.15,332.84 467.14,332.98 468.14,333.13 469.13,333.27 470.12,333.41 471.11,333.54 472.10,333.68 473.10,333.81 474.09,333.94 475.08,334.07 476.07,334.20 477.06,334.32 478.06,334.45 479.05,334.57 480.04,334.69 481.03,334.80 482.02,334.92 483.02,335.03 484.01,335.14 485.00,335.25 485.99,335.36 486.98,335.47 487.98,335.58 488.97,335.68 489.96,335.78 490.95,335.88 491.94,335.98 492.94,336.08 493.93,336.18 494.92,336.27 495.91,336.36 496.90,336.46 497.90,336.55 498.89,336.64 499.88,336.72 500.87,336.81 501.86,336.89 502.86,336.98 503.85,337.06 504.84,337.14 505.83,337.22 506.82,337.30 507.82,337.38 508.81,337.46 509.80,337.53" fill="none" stroke="#000" stroke-width="1.2"/>
<polyline points="311.40,351.00 312.39,347.90 313.38,345.24 314.38,342.76 315.37,340.40 316.36,338.15 317.35,335.98 318.34,333.89 319.34,331.87 320.33,329.91 321.32,328.00 322.31,326.15 323.30,324.36 324.30,322.61 325.29,320.90 326.28,319.24 327.27,317.62 328.26,316.03 329.26,314.49 330.25,312.98 331.24,311.51 332.23,310.07 333.22,308.66 334.22,307.28 335.21,305.94 336.20,304.62 337.19,303.33 338.18,302.07 339.18,300.84 340.17,299.63 341.16,298.45 342.15,297.29 343.14,296.15 344.14,295.04 345.13,293.95 346.12,292.89 347.11,291.84 348.10,290.82 349.10,289.81 350.09,288.83 351.08,287.86 352.07,286.92 353.06,285.99 354.06,285.08 355.05,284.19 356.04,283.31 357.03,282.45 358.02,281.61 359.02,280.78 360.01,279.97 361.00,279.18 361.99,278.40 362.98,277.63 363.98,276.88 364.97,276.14 365.96,275.42 366.95,274.71 367.94,274.01 368.94,273.32 369.93,272.65 370.92,271.99 371.91,271.34 372.90,270.71 373.90,270.08 374.89,269.47 375.88,268.87 376.87,268.27 377.86,267.69 378.86,267.12 379.85,266.56 380.84,266.01 381.83,265.47 382.82,264.94 383.82,264.42 384.81,263.90 385.80,263.40 386.79,262.91 387.78,262.42 388.78,261.94 389.77,261.47 390.76,261.01 391.75,260.56 392.74,260.11 393.74,259.68 394.73,259.25 395.72,258.82 396.71,258.41 397.70,258.00 398.70,257.60 399.69,257.21 400.68,256.82 401.67,256.44 402.66,256.06 403.66,255.70 404.65,255.33 405.64,254.98 406.63,254.63 407.62,254.29 408.62,253.95 409.61,253.62 410.60,253.29 411.59,252.97 412.58,252.65 413.58,252.34 414.57,252.04 415.56,251.74 416.55,251.45 417.54,251.16 418.54,250.87 419.53,250.59 420.52,250.32 421.51,250.04 422.50,249.78 423.50,249.52 424.49,249.26 425.48,249.00 426.47,248.76 427.46,248.51 428.46,248.27 429.45,248.03 430.44,247.80 431.43,247.57 432.42,247.34 433.42,247.12 434.41,246.90 435.40,246.69 436.39,246.48 437.38,246.27 438.38,246.07 439.37,245.87 440.36,245.67 441.35,245.47 442.34,245.28 443.34,245.09 444.33,244.91 445.32,244.73 446.31,244.55 447.30,244.37 448.30,244.20 449.29,244.03 450.28,243.86 451.27,243.70 452.26,243.53 453.26,243.37 454.25,243.22 455.24,243.06 456.23,242.91 457.22,242.76 458.22,242.61 459.21,242.47 460.20,242.32 461.19,242.18 462.18,242.05 463.18,241.91 464.17,241.78 465.16,241.64 466.15,241.52 467.14,241.39 468.14,241.26 469.13,241.14 470.12,241.02 471.11,240.90 472.10,240.78 473.10,240.66 474.09,240.55 475.08,240.44 476.07,240.33 477.06,240.22 478.06,240.11 479.05,240.01 480.04,239.90 481.03,239.80 482.02,239.70 483.02,239.60 484.01,239.51 485.00,239.41 485.99,239.32 486.98,239.22 487.98,239.13 488.97,239.04 489.96,238.95 490.95,238.87 491.94,238.78 492.94,238.70 493.93,238.61 494.92,238.53 495.91,238.45 496.90,238.37 497.90,238.30 498.89,238.22 499.88,238.14 500.87,238.07 501.86,238.00 502.86,237.92 503.85,237.85 504.84,237.78 505.83,237.71 506.82,237.65 507.82,237.58 508.81,237.51 509.80,237.45" fill="none" stroke="#000" stroke-width="1.2"/>
<polyline points="311.40,351.00 312.39,347.90 313.38,345.36 314.38,343.03 315.37,340.84 316.36,338.75 317.35,336.76 318.34,334.84 319.34,332.98 320.33,331.19 321.32,329.45 322.31,327.76 323.30,326.12 324.30,324.53 325.29,322.97 326.28,321.46 327.27,319.98 328.26,318.53 329.26,317.12 330.25,315.74 331.24,314.39 332.23,313.07 333.22,311.78 334.22,310.52 335.21,309.28 336.20,308.07 337.19,306.88 338.18,305.71 339.18,304.57 340.17,303.45 341.16,302.35 342.15,301.28 343.14,300.22 344.14,299.18 345.13,298.16 346.12,297.16 347.11,296.18 348.10,295.22 349.10,294.27 350.09,293.34 351.08,292.43 352.07,291.53 353.06,290.65 354.06,289.78 355.05,288.93 356.04,288.09 357.03,287.27 358.02,286.46 359.02,285.67 360.01,284.88 361.00,284.12 361.99,283.36 362.98,282.61 363.98,281.88 364.97,281.16 365.96,280.45 366.95,279.76 367.94,279.07 368.94,278.40 369.93,277.73 370.92,277.08 371.91,276.43 372.90,275.80 373.90,275.18 374.89,274.56 375.88,273.96 376.87,273.37 377.86,272.78 378.86,272.20 379.85,271.64 380.84,271.08 381.83,270.53 382.82,269.98 383.82,269.45 384.81,268.92 385.80,268.41 386.79,267.90 387.78,267.39 388.78,266.90 389.77,266.41 390.76,265.93 391.75,265.46 392.74,264.99 393.74,264.53 394.73,264.08 395.72,263.63 396.71,263.20 397.70,262.76 398.70,262.34 399.69,261.92 400.68,261.50 401.67,261.09 402.66,260.69 403.66,260.29 404.65,259.90 405.64,259.52 406.63,259.14 407.62,258.76 408.62,258.39 409.61,258.03 410.60,257.67 411.59,257.32 412.58,256.97 413.58,256.63 414.57,256.29 415.56,255.95 416.55,255.62 417.54,255.30 418.54,254.98 419.53,254.66 420.52,254.35 421.51,254.04 422.50,253.74 423.50,253.44 424.49,253.15 425.48,252.86 426.47,252.57 427.46,252.29 428.46,252.01 429.45,251.74 430.44,251.46 431.43,251.20 432.42,250.93 433.42,250.67 434.41,250.42 435.40,250.16 436.39,249.91 437.38,249.67 438.38,249.43 439.37,249.19 440.36,248.95 441.35,248.72 442.34,248.49 443.34,248.26 444.33,248.04 445.32,247.82 446.31,247.60 447.30,247.38 448.30,247.17 449.29,246.96 450.28,246.75 451.27,246.55 452.26,246.35 453.26,246.15 454.25,245.96 455.24,245.76 456.23,245.57 457.22,245.38 458.22,245.20 459.21,245.02 460.20,244.83 461.19,244.66 462.18,244.48 463.18,244.31 464.17,244.14 465.16,243.97 466.15,243.80 467.14,243.63 468.14,243.47 469.13,243.31 470.12,243.15 471.11,243.00 472.10,242.84 473.10,242.69 474.09,242.54 475.08,242.39 476.07,242.24 477.06,242.10 478.06,241.96 479.05,241.82 480.04,241.68 481.03,241.54 482.02,241.40 483.02,241.27 484.01,241.14 485.00,241.01 485.99,240.88 486.98,240.75 487.98,240.63 488.97,240.50 489.96,240.38 490.95,240.26 491.94,240.14 492.94,240.02 493.93,239.91 494.92,239.79 495.91,239.68 496.90,239.57 497.90,239.46 498.89,239.35 499.88,239.24 500.87,239.13 501.86,239.03 502.86,238.92 503.85,238.82 504.84,238.72 505.83,238.62 506.82,238.52 507.82,238.43 508.81,238.33 509.80,238.24" fill="none" stroke="#000" stroke-width="1.2"/>
<rect x="308.45" y="223.05" width="5.9" height="5.9" fill="#000"/>
<rect x="316.39" y="237.55" width="5.9" height="5.9" fill="#000"/>
<rect x="328.29" y="258.80" width="5.9" height="5.9" fill="#000"/>
<rect x="348.13" y="281.80" width="5.9" height="5.9" fill="#000"/>
<rect x="387.81" y="307.80" width="5.9" height="5.9" fill="#000"/>
<rect x="427.49" y="321.55" width="5.9" height="5.9" fill="#000"/>
<rect x="467.17" y="329.30" width="5.9" height="5.9" fill="#000"/>
<rect x="506.85" y="336.55" width="5.9" height="5.9" fill="#000"/>
<rect x="308.70" y="348.30" width="5.4" height="5.4" fill="#fff" stroke="#000" stroke-width="1"/>
<rect x="316.64" y="329.30" width="5.4" height="5.4" fill="#fff" stroke="#000" stroke-width="1"/>
<rect x="328.54" y="312.30" width="5.4" height="5.4" fill="#fff" stroke="#000" stroke-width="1"/>
<rect x="348.38" y="291.55" width="5.4" height="5.4" fill="#fff" stroke="#000" stroke-width="1"/>
<rect x="388.06" y="262.80" width="5.4" height="5.4" fill="#fff" stroke="#000" stroke-width="1"/>
<rect x="427.74" y="248.80" width="5.4" height="5.4" fill="#fff" stroke="#000" stroke-width="1"/>
<rect x="467.42" y="240.55" width="5.4" height="5.4" fill="#fff" stroke="#000" stroke-width="1"/>
<rect x="507.10" y="235.05" width="5.4" height="5.4" fill="#fff" stroke="#000" stroke-width="1"/>
<circle cx="311.40" cy="351.00" r="2.7" fill="#fff" stroke="#000" stroke-width="1"/>
<circle cx="319.34" cy="331.25" r="2.7" fill="#fff" stroke="#000" stroke-width="1"/>
<circle cx="331.24" cy="309.50" r="2.7" fill="#fff" stroke="#000" stroke-width="1"/>
<circle cx="351.08" cy="291.00" r="2.7" fill="#fff" stroke="#000" stroke-width="1"/>
<circle cx="390.76" cy="260.75" r="2.7" fill="#fff" stroke="#000" stroke-width="1"/>
<circle cx="430.44" cy="247.50" r="2.7" fill="#fff" stroke="#000" stroke-width="1"/>
<circle cx="470.12" cy="240.25" r="2.7" fill="#fff" stroke="#000" stroke-width="1"/>
<circle cx="509.80" cy="237.75" r="2.7" fill="#fff" stroke="#000" stroke-width="1"/>
<rect x="452.10" y="272.00" width="5.8" height="5.8" fill="#000"/>
<text x="467.40" y="278.90" font-size="11" font-weight="normal" text-anchor="start" >P3 21-65</text>
<circle cx="455.00" cy="286.50" r="2.7" fill="#fff" stroke="#000" stroke-width="1"/>
<text x="467.40" y="290.50" font-size="11" font-weight="normal" text-anchor="start" >P3 42-65</text>
<rect x="452.40" y="295.50" width="5.2" height="5.2" fill="#fff" stroke="#000" stroke-width="1"/>
<text x="467.40" y="302.10" font-size="11" font-weight="normal" text-anchor="start" >P3 21-41</text>
<line x1="311.40" y1="412.30" x2="311.40" y2="550.30" stroke="#2e2e2e" stroke-width="1.5" />
<line x1="308.80" y1="549.80" x2="311.40" y2="549.80" stroke="#2e2e2e" stroke-width="1.5" />
<text x="307.50" y="553.40" font-size="10" font-weight="bold" text-anchor="end" >0</text>
<line x1="308.80" y1="524.80" x2="311.40" y2="524.80" stroke="#2e2e2e" stroke-width="1.5" />
<text x="307.50" y="528.40" font-size="10" font-weight="bold" text-anchor="end" >10</text>
<line x1="308.80" y1="499.80" x2="311.40" y2="499.80" stroke="#2e2e2e" stroke-width="1.5" />
<text x="307.50" y="503.40" font-size="10" font-weight="bold" text-anchor="end" >20</text>
<line x1="308.80" y1="474.80" x2="311.40" y2="474.80" stroke="#2e2e2e" stroke-width="1.5" />
<text x="307.50" y="478.40" font-size="10" font-weight="bold" text-anchor="end" >30</text>
<line x1="308.80" y1="449.80" x2="311.40" y2="449.80" stroke="#2e2e2e" stroke-width="1.5" />
<text x="307.50" y="453.40" font-size="10" font-weight="bold" text-anchor="end" >40</text>
<line x1="308.80" y1="424.80" x2="311.40" y2="424.80" stroke="#2e2e2e" stroke-width="1.5" />
<text x="307.50" y="428.40" font-size="10" font-weight="bold" text-anchor="end" >50</text>
<line x1="310.90" y1="549.80" x2="519.50" y2="549.80" stroke="#2e2e2e" stroke-width="1.5" />
<line x1="311.40" y1="549.80" x2="311.40" y2="552.50" stroke="#2e2e2e" stroke-width="1.5" />
<text x="311.40" y="564.30" font-size="10" font-weight="bold" text-anchor="middle" >0</text>
<line x1="360.55" y1="549.80" x2="360.55" y2="552.50" stroke="#2e2e2e" stroke-width="1.5" />
<text x="360.55" y="564.30" font-size="10" font-weight="bold" text-anchor="middle" >5</text>
<line x1="409.70" y1="549.80" x2="409.70" y2="552.50" stroke="#2e2e2e" stroke-width="1.5" />
<text x="409.70" y="564.30" font-size="10" font-weight="bold" text-anchor="middle" >10</text>
<line x1="458.85" y1="549.80" x2="458.85" y2="552.50" stroke="#2e2e2e" stroke-width="1.5" />
<text x="458.85" y="564.30" font-size="10" font-weight="bold" text-anchor="middle" >15</text>
<line x1="508.00" y1="549.80" x2="508.00" y2="552.50" stroke="#2e2e2e" stroke-width="1.5" />
<text x="508.00" y="564.30" font-size="10" font-weight="bold" text-anchor="middle" >20</text>
<text x="415.45" y="578.60" font-size="11" font-weight="bold" text-anchor="middle" xml:space="preserve">Time (hrs)</text>
<text transform="translate(284.80,478.80) rotate(-90)" font-size="11" font-weight="bold" text-anchor="middle">PAR3 peptides (&#956;M)</text>
<polyline points="311.40,424.80 312.38,427.93 313.37,430.92 314.35,433.81 315.33,436.61 316.31,439.33 317.30,441.97 318.28,444.53 319.26,447.03 320.25,449.45 321.23,451.81 322.21,454.11 323.20,456.35 324.18,458.53 325.16,460.65 326.14,462.71 327.13,464.72 328.11,466.68 329.09,468.59 330.08,470.45 331.06,472.25 332.04,474.02 333.03,475.74 334.01,477.41 334.99,479.04 335.97,480.63 336.96,482.18 337.94,483.69 338.92,485.16 339.91,486.59 340.89,487.98 341.87,489.35 342.86,490.67 343.84,491.96 344.82,493.22 345.80,494.45 346.79,495.65 347.77,496.82 348.75,497.95 349.74,499.06 350.72,500.14 351.70,501.20 352.69,502.22 353.67,503.22 354.65,504.20 355.63,505.15 356.62,506.08 357.60,506.98 358.58,507.86 359.57,508.72 360.55,509.56 361.53,510.38 362.52,511.18 363.50,511.95 364.48,512.71 365.46,513.45 366.45,514.17 367.43,514.87 368.41,515.55 369.40,516.22 370.38,516.87 371.36,517.51 372.35,518.13 373.33,518.73 374.31,519.32 375.29,519.89 376.28,520.45 377.26,521.00 378.24,521.53 379.23,522.05 380.21,522.55 381.19,523.05 382.18,523.53 383.16,524.00 384.14,524.45 385.12,524.90 386.11,525.34 387.09,525.76 388.07,526.17 389.06,526.58 390.04,526.97 391.02,527.35 392.01,527.73 392.99,528.09 393.97,528.45 394.95,528.80 395.94,529.14 396.92,529.47 397.90,529.79 398.89,530.10 399.87,530.41 400.85,530.71 401.84,531.00 402.82,531.28 403.80,531.56 404.78,531.83 405.77,532.10 406.75,532.35 407.73,532.60 408.72,532.85 409.70,533.09 410.68,533.32 411.67,533.55 412.65,533.77 413.63,533.99 414.62,534.20 415.60,534.40 416.58,534.60 417.56,534.80 418.55,534.99 419.53,535.17 420.51,535.36 421.50,535.53 422.48,535.71 423.46,535.87 424.44,536.04 425.43,536.20 426.41,536.36 427.39,536.51 428.38,536.66 429.36,536.80 430.34,536.94 431.33,537.08 432.31,537.22 433.29,537.35 434.27,537.48 435.26,537.60 436.24,537.72 437.22,537.84 438.21,537.96 439.19,538.07 440.17,538.18 441.16,538.29 442.14,538.39 443.12,538.50 444.11,538.60 445.09,538.69 446.07,538.79 447.05,538.88 448.04,538.97 449.02,539.06 450.00,539.15 450.99,539.23 451.97,539.31 452.95,539.39 453.93,539.47 454.92,539.55 455.90,539.62 456.88,539.69 457.87,539.77 458.85,539.83 459.83,539.90 460.82,539.97 461.80,540.03 462.78,540.09 463.76,540.15 464.75,540.21 465.73,540.27 466.71,540.33 467.70,540.38 468.68,540.44 469.66,540.49 470.65,540.54 471.63,540.59 472.61,540.64 473.59,540.69 474.58,540.73 475.56,540.78 476.54,540.82 477.53,540.87 478.51,540.91 479.49,540.95 480.48,540.99 481.46,541.03 482.44,541.07 483.42,541.11 484.41,541.14 485.39,541.18 486.37,541.21 487.36,541.24 488.34,541.28 489.32,541.31 490.31,541.34 491.29,541.37 492.27,541.40 493.25,541.43 494.24,541.46 495.22,541.49 496.20,541.51 497.19,541.54 498.17,541.57 499.15,541.59 500.14,541.62 501.12,541.64 502.10,541.66 503.08,541.69 504.07,541.71 505.05,541.73 506.03,541.75 507.02,541.77 508.00,541.79" fill="none" stroke="#000" stroke-width="1.2"/>
<polyline points="311.40,549.80 312.38,545.99 313.37,542.49 314.35,539.18 315.33,536.01 316.31,532.96 317.30,530.03 318.28,527.20 319.26,524.46 320.25,521.82 321.23,519.27 322.21,516.80 323.20,514.41 324.18,512.09 325.16,509.84 326.14,507.67 327.13,505.56 328.11,503.52 329.09,501.53 330.08,499.61 331.06,497.74 332.04,495.93 333.03,494.18 334.01,492.47 334.99,490.82 335.97,489.21 336.96,487.65 337.94,486.13 338.92,484.66 339.91,483.23 340.89,481.85 341.87,480.50 342.86,479.19 343.84,477.91 344.82,476.68 345.80,475.48 346.79,474.31 347.77,473.17 348.75,472.07 349.74,471.00 350.72,469.96 351.70,468.94 352.69,467.96 353.67,467.00 354.65,466.07 355.63,465.17 356.62,464.29 357.60,463.43 358.58,462.60 359.57,461.79 360.55,461.00 361.53,460.24 362.52,459.50 363.50,458.77 364.48,458.07 365.46,457.38 366.45,456.72 367.43,456.07 368.41,455.44 369.40,454.83 370.38,454.23 371.36,453.65 372.35,453.09 373.33,452.54 374.31,452.01 375.29,451.49 376.28,450.98 377.26,450.49 378.24,450.01 379.23,449.55 380.21,449.10 381.19,448.65 382.18,448.23 383.16,447.81 384.14,447.40 385.12,447.01 386.11,446.62 387.09,446.25 388.07,445.89 389.06,445.53 390.04,445.19 391.02,444.85 392.01,444.52 392.99,444.21 393.97,443.90 394.95,443.60 395.94,443.30 396.92,443.02 397.90,442.74 398.89,442.47 399.87,442.21 400.85,441.95 401.84,441.70 402.82,441.46 403.80,441.22 404.78,440.99 405.77,440.77 406.75,440.55 407.73,440.34 408.72,440.13 409.70,439.93 410.68,439.73 411.67,439.54 412.65,439.36 413.63,439.18 414.62,439.00 415.60,438.83 416.58,438.66 417.56,438.50 418.55,438.34 419.53,438.19 420.51,438.04 421.50,437.89 422.48,437.75 423.46,437.61 424.44,437.47 425.43,437.34 426.41,437.22 427.39,437.09 428.38,436.97 429.36,436.85 430.34,436.74 431.33,436.62 432.31,436.52 433.29,436.41 434.27,436.31 435.26,436.21 436.24,436.11 437.22,436.01 438.21,435.92 439.19,435.83 440.17,435.74 441.16,435.65 442.14,435.57 443.12,435.49 444.11,435.41 445.09,435.33 446.07,435.26 447.05,435.18 448.04,435.11 449.02,435.04 450.00,434.97 450.99,434.91 451.97,434.84 452.95,434.78 453.93,434.72 454.92,434.66 455.90,434.60 456.88,434.55 457.87,434.49 458.85,434.44 459.83,434.38 460.82,434.33 461.80,434.28 462.78,434.24 463.76,434.19 464.75,434.14 465.73,434.10 466.71,434.06 467.70,434.01 468.68,433.97 469.66,433.93 470.65,433.89 471.63,433.85 472.61,433.82 473.59,433.78 474.58,433.75 475.56,433.71 476.54,433.68 477.53,433.65 478.51,433.61 479.49,433.58 480.48,433.55 481.46,433.52 482.44,433.49 483.42,433.47 484.41,433.44 485.39,433.41 486.37,433.39 487.36,433.36 488.34,433.34 489.32,433.31 490.31,433.29 491.29,433.27 492.27,433.25 493.25,433.22 494.24,433.20 495.22,433.18 496.20,433.16 497.19,433.14 498.17,433.13 499.15,433.11 500.14,433.09 501.12,433.07 502.10,433.05 503.08,433.04 504.07,433.02 505.05,433.01 506.03,432.99 507.02,432.98 508.00,432.96" fill="none" stroke="#000" stroke-width="1.2"/>
<polyline points="311.40,549.80 312.38,546.06 313.37,542.88 314.35,539.93 315.33,537.14 316.31,534.49 317.30,531.95 318.28,529.51 319.26,527.16 320.25,524.89 321.23,522.70 322.21,520.58 323.20,518.52 324.18,516.53 325.16,514.59 326.14,512.71 327.13,510.89 328.11,509.11 329.09,507.39 330.08,505.71 331.06,504.07 332.04,502.48 333.03,500.93 334.01,499.42 334.99,497.94 335.97,496.51 336.96,495.11 337.94,493.74 338.92,492.41 339.91,491.11 340.89,489.84 341.87,488.61 342.86,487.40 343.84,486.22 344.82,485.07 345.80,483.94 346.79,482.84 347.77,481.77 348.75,480.72 349.74,479.70 350.72,478.69 351.70,477.72 352.69,476.76 353.67,475.82 354.65,474.91 355.63,474.02 356.62,473.14 357.60,472.29 358.58,471.45 359.57,470.64 360.55,469.84 361.53,469.05 362.52,468.29 363.50,467.54 364.48,466.81 365.46,466.09 366.45,465.39 367.43,464.71 368.41,464.03 369.40,463.38 370.38,462.73 371.36,462.10 372.35,461.49 373.33,460.89 374.31,460.30 375.29,459.72 376.28,459.15 377.26,458.60 378.24,458.05 379.23,457.52 380.21,457.00 381.19,456.49 382.18,455.99 383.16,455.51 384.14,455.03 385.12,454.56 386.11,454.10 387.09,453.65 388.07,453.21 389.06,452.78 390.04,452.35 391.02,451.94 392.01,451.53 392.99,451.14 393.97,450.75 394.95,450.37 395.94,449.99 396.92,449.63 397.90,449.27 398.89,448.91 399.87,448.57 400.85,448.23 401.84,447.90 402.82,447.58 403.80,447.26 404.78,446.95 405.77,446.64 406.75,446.34 407.73,446.05 408.72,445.76 409.70,445.48 410.68,445.20 411.67,444.93 412.65,444.66 413.63,444.40 414.62,444.15 415.60,443.90 416.58,443.65 417.56,443.41 418.55,443.17 419.53,442.94 420.51,442.71 421.50,442.49 422.48,442.27 423.46,442.06 424.44,441.85 425.43,441.64 426.41,441.44 427.39,441.24 428.38,441.05 429.36,440.86 430.34,440.67 431.33,440.49 432.31,440.31 433.29,440.13 434.27,439.96 435.26,439.79 436.24,439.62 437.22,439.46 438.21,439.30 439.19,439.14 440.17,438.99 441.16,438.84 442.14,438.69 443.12,438.54 444.11,438.40 445.09,438.26 446.07,438.12 447.05,437.99 448.04,437.86 449.02,437.73 450.00,437.60 450.99,437.48 451.97,437.35 452.95,437.23 453.93,437.12 454.92,437.00 455.90,436.89 456.88,436.78 457.87,436.67 458.85,436.56 459.83,436.45 460.82,436.35 461.80,436.25 462.78,436.15 463.76,436.05 464.75,435.96 465.73,435.86 466.71,435.77 467.70,435.68 468.68,435.59 469.66,435.50 470.65,435.42 471.63,435.33 472.61,435.25 473.59,435.17 474.58,435.09 475.56,435.01 476.54,434.94 477.53,434.86 478.51,434.79 479.49,434.72 480.48,434.65 481.46,434.58 482.44,434.51 483.42,434.44 484.41,434.37 485.39,434.31 486.37,434.25 487.36,434.18 488.34,434.12 489.32,434.06 490.31,434.00 491.29,433.95 492.27,433.89 493.25,433.83 494.24,433.78 495.22,433.72 496.20,433.67 497.19,433.62 498.17,433.57 499.15,433.52 500.14,433.47 501.12,433.42 502.10,433.37 503.08,433.33 504.07,433.28 505.05,433.24 506.03,433.19 507.02,433.15 508.00,433.11" fill="none" stroke="#000" stroke-width="1.2"/>
<line x1="390.04" y1="439.05" x2="390.04" y2="444.30" stroke="#2e2e2e" stroke-width="1" />
<line x1="387.64" y1="439.05" x2="392.44" y2="439.05" stroke="#2e2e2e" stroke-width="1" />
<line x1="468.68" y1="428.30" x2="468.68" y2="433.30" stroke="#2e2e2e" stroke-width="1" />
<line x1="466.28" y1="428.30" x2="471.08" y2="428.30" stroke="#2e2e2e" stroke-width="1" />
<rect x="308.45" y="421.85" width="5.9" height="5.9" fill="#000"/>
<rect x="318.28" y="461.35" width="5.9" height="5.9" fill="#000"/>
<rect x="328.11" y="474.35" width="5.9" height="5.9" fill="#000"/>
<rect x="347.77" y="496.60" width="5.9" height="5.9" fill="#000"/>
<rect x="367.43" y="513.60" width="5.9" height="5.9" fill="#000"/>
<rect x="387.09" y="522.85" width="5.9" height="5.9" fill="#000"/>
<rect x="406.75" y="531.10" width="5.9" height="5.9" fill="#000"/>
<rect x="426.41" y="535.35" width="5.9" height="5.9" fill="#000"/>
<rect x="465.73" y="534.85" width="5.9" height="5.9" fill="#000"/>
<rect x="485.39" y="537.35" width="5.9" height="5.9" fill="#000"/>
<rect x="505.05" y="539.35" width="5.9" height="5.9" fill="#000"/>
<rect x="308.70" y="547.10" width="5.4" height="5.4" fill="#fff" stroke="#000" stroke-width="1"/>
<rect x="318.53" y="523.85" width="5.4" height="5.4" fill="#fff" stroke="#000" stroke-width="1"/>
<rect x="328.36" y="498.35" width="5.4" height="5.4" fill="#fff" stroke="#000" stroke-width="1"/>
<rect x="348.02" y="473.35" width="5.4" height="5.4" fill="#fff" stroke="#000" stroke-width="1"/>
<rect x="367.68" y="458.35" width="5.4" height="5.4" fill="#fff" stroke="#000" stroke-width="1"/>
<rect x="387.34" y="450.35" width="5.4" height="5.4" fill="#fff" stroke="#000" stroke-width="1"/>
<rect x="407.00" y="443.35" width="5.4" height="5.4" fill="#fff" stroke="#000" stroke-width="1"/>
<rect x="426.66" y="440.10" width="5.4" height="5.4" fill="#fff" stroke="#000" stroke-width="1"/>
<rect x="465.98" y="433.10" width="5.4" height="5.4" fill="#fff" stroke="#000" stroke-width="1"/>
<rect x="485.64" y="431.60" width="5.4" height="5.4" fill="#fff" stroke="#000" stroke-width="1"/>
<rect x="505.30" y="429.35" width="5.4" height="5.4" fill="#fff" stroke="#000" stroke-width="1"/>
<circle cx="311.40" cy="549.80" r="2.7" fill="#fff" stroke="#000" stroke-width="1"/>
<circle cx="321.23" cy="522.05" r="2.7" fill="#fff" stroke="#000" stroke-width="1"/>
<circle cx="331.06" cy="494.80" r="2.7" fill="#fff" stroke="#000" stroke-width="1"/>
<circle cx="350.72" cy="468.80" r="2.7" fill="#fff" stroke="#000" stroke-width="1"/>
<circle cx="370.38" cy="454.80" r="2.7" fill="#fff" stroke="#000" stroke-width="1"/>
<circle cx="390.04" cy="444.30" r="2.7" fill="#fff" stroke="#000" stroke-width="1"/>
<circle cx="409.70" cy="440.80" r="2.7" fill="#fff" stroke="#000" stroke-width="1"/>
<circle cx="429.36" cy="436.30" r="2.7" fill="#fff" stroke="#000" stroke-width="1"/>
<circle cx="468.68" cy="433.30" r="2.7" fill="#fff" stroke="#000" stroke-width="1"/>
<circle cx="488.34" cy="434.05" r="2.7" fill="#fff" stroke="#000" stroke-width="1"/>
<circle cx="508.00" cy="431.55" r="2.7" fill="#fff" stroke="#000" stroke-width="1"/>
<rect x="452.10" y="472.00" width="5.8" height="5.8" fill="#000"/>
<text x="467.40" y="478.90" font-size="11" font-weight="normal" text-anchor="start" >P3 21-65</text>
<circle cx="455.00" cy="486.50" r="2.7" fill="#fff" stroke="#000" stroke-width="1"/>
<text x="467.40" y="490.50" font-size="11" font-weight="normal" text-anchor="start" >P3 42-65</text>
<rect x="452.40" y="495.50" width="5.2" height="5.2" fill="#fff" stroke="#000" stroke-width="1"/>
<text x="467.40" y="502.10" font-size="11" font-weight="normal" text-anchor="start" >P3 21-41</text>
</svg>
</body></html>
